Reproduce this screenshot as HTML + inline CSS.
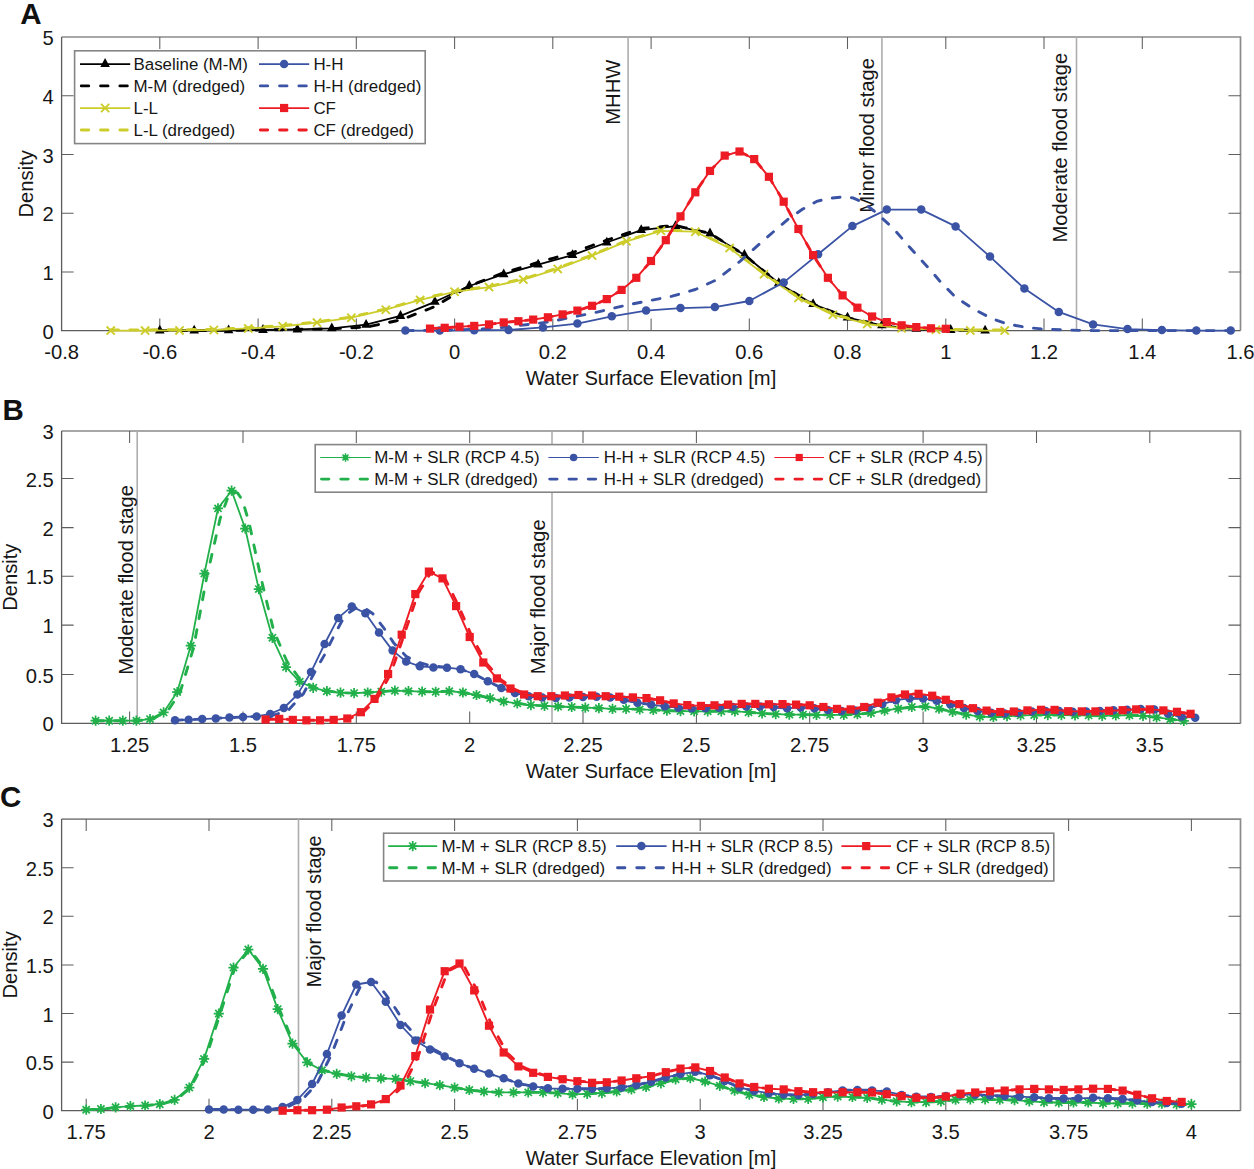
<!DOCTYPE html>
<html><head><meta charset="utf-8"><title>Figure</title>
<style>html,body{margin:0;padding:0;background:#fff}svg{display:block}</style>
</head><body>
<svg width="1254" height="1169" viewBox="0 0 1254 1169" font-family='"Liberation Sans", sans-serif' fill="#161616">
<rect width="1254" height="1169" fill="#fff"/>
<path d="M61.6 37.0H1240.5V330.6" fill="none" stroke="#8b8b8b" stroke-width="1.7"/>
<path d="M61.6 37.0V330.6H1240.5" fill="none" stroke="#5c5c5c" stroke-width="1.3"/>
<path d="M159.8 330.6v-12M159.8 37.0v12M258.1 330.6v-12M258.1 37.0v12M356.3 330.6v-12M356.3 37.0v12M454.6 330.6v-12M454.6 37.0v12M552.8 330.6v-12M552.8 37.0v12M651.1 330.6v-12M651.1 37.0v12M749.3 330.6v-12M749.3 37.0v12M847.5 330.6v-12M847.5 37.0v12M945.8 330.6v-12M945.8 37.0v12M1044.0 330.6v-12M1044.0 37.0v12M1142.3 330.6v-12M1142.3 37.0v12M61.6 271.9h12M1240.5 271.9h-12M61.6 213.2h12M1240.5 213.2h-12M61.6 154.4h12M1240.5 154.4h-12M61.6 95.7h12M1240.5 95.7h-12" stroke="#5e5e5e" stroke-width="1.05" fill="none"/>
<text x="61.6" y="359.0" text-anchor="middle" font-size="20.2">-0.8</text>
<text x="159.8" y="359.0" text-anchor="middle" font-size="20.2">-0.6</text>
<text x="258.1" y="359.0" text-anchor="middle" font-size="20.2">-0.4</text>
<text x="356.3" y="359.0" text-anchor="middle" font-size="20.2">-0.2</text>
<text x="454.6" y="359.0" text-anchor="middle" font-size="20.2">0</text>
<text x="552.8" y="359.0" text-anchor="middle" font-size="20.2">0.2</text>
<text x="651.1" y="359.0" text-anchor="middle" font-size="20.2">0.4</text>
<text x="749.3" y="359.0" text-anchor="middle" font-size="20.2">0.6</text>
<text x="847.5" y="359.0" text-anchor="middle" font-size="20.2">0.8</text>
<text x="945.8" y="359.0" text-anchor="middle" font-size="20.2">1</text>
<text x="1044.0" y="359.0" text-anchor="middle" font-size="20.2">1.2</text>
<text x="1142.3" y="359.0" text-anchor="middle" font-size="20.2">1.4</text>
<text x="1240.5" y="359.0" text-anchor="middle" font-size="20.2">1.6</text>
<text x="53.8" y="338.7" text-anchor="end" font-size="20.2">0</text>
<text x="53.8" y="280.0" text-anchor="end" font-size="20.2">1</text>
<text x="53.8" y="221.3" text-anchor="end" font-size="20.2">2</text>
<text x="53.8" y="162.5" text-anchor="end" font-size="20.2">3</text>
<text x="53.8" y="103.8" text-anchor="end" font-size="20.2">4</text>
<text x="53.8" y="45.1" text-anchor="end" font-size="20.2">5</text>
<text x="651.0" y="384.9" text-anchor="middle" font-size="20.2">Water Surface Elevation [m]</text>
<text transform="translate(33.2 183.8) rotate(-90)" text-anchor="middle" font-size="20.2">Density</text>
<path d="M628.1 37.0V330.6" stroke="#aeaeae" stroke-width="1.6" fill="none"/><text transform="translate(619.5 59.7) rotate(-90)" text-anchor="end" font-size="20.2">MHHW</text>
<path d="M881.9 37.0V330.6" stroke="#aeaeae" stroke-width="1.6" fill="none"/><text transform="translate(874.4 58.0) rotate(-90)" text-anchor="end" font-size="20.2">Minor flood stage</text>
<path d="M1076.5 37.0V330.6" stroke="#aeaeae" stroke-width="1.6" fill="none"/><text transform="translate(1066.5 52.8) rotate(-90)" text-anchor="end" font-size="20.2">Moderate flood stage</text>
<path d="M159.8 330.6L194.2 330.6L228.6 330.3L263.0 330.0L297.4 329.4L331.8 328.3L366.1 324.7L400.5 315.9L434.9 301.8L469.3 286.0L503.7 274.2L538.1 264.6L572.5 255.1L606.8 242.5L641.2 230.2L675.6 226.1L710.0 233.4L744.4 254.9L778.8 283.2L813.1 304.2L847.5 317.7L881.9 325.3L916.3 328.8L950.7 330.0L985.1 330.6" fill="none" stroke="#000000" stroke-width="1.8" stroke-linejoin="round"/>
<path d="M155.0 333.5L164.6 333.5L159.8 324.7Z" fill="#000000"/>
<path d="M189.4 333.5L199.0 333.5L194.2 324.7Z" fill="#000000"/>
<path d="M223.8 333.2L233.4 333.2L228.6 324.4Z" fill="#000000"/>
<path d="M258.2 332.9L267.8 332.9L263.0 324.1Z" fill="#000000"/>
<path d="M292.6 332.4L302.2 332.4L297.4 323.6Z" fill="#000000"/>
<path d="M327.0 331.2L336.6 331.2L331.8 322.4Z" fill="#000000"/>
<path d="M361.3 327.7L370.9 327.7L366.1 318.9Z" fill="#000000"/>
<path d="M395.7 318.9L405.3 318.9L400.5 310.1Z" fill="#000000"/>
<path d="M430.1 304.8L439.7 304.8L434.9 296.0Z" fill="#000000"/>
<path d="M464.5 288.9L474.1 288.9L469.3 280.1Z" fill="#000000"/>
<path d="M498.9 277.2L508.5 277.2L503.7 268.4Z" fill="#000000"/>
<path d="M533.3 267.5L542.9 267.5L538.1 258.7Z" fill="#000000"/>
<path d="M567.7 258.0L577.3 258.0L572.5 249.2Z" fill="#000000"/>
<path d="M602.0 245.5L611.6 245.5L606.8 236.7Z" fill="#000000"/>
<path d="M636.4 233.1L646.0 233.1L641.2 224.3Z" fill="#000000"/>
<path d="M670.8 229.0L680.4 229.0L675.6 220.2Z" fill="#000000"/>
<path d="M705.2 236.4L714.8 236.4L710.0 227.6Z" fill="#000000"/>
<path d="M739.6 257.8L749.2 257.8L744.4 249.0Z" fill="#000000"/>
<path d="M774.0 286.1L783.6 286.1L778.8 277.3Z" fill="#000000"/>
<path d="M808.3 307.1L817.9 307.1L813.1 298.3Z" fill="#000000"/>
<path d="M842.7 320.6L852.3 320.6L847.5 311.8Z" fill="#000000"/>
<path d="M877.1 328.2L886.7 328.2L881.9 319.4Z" fill="#000000"/>
<path d="M911.5 331.8L921.1 331.8L916.3 323.0Z" fill="#000000"/>
<path d="M945.9 332.9L955.5 332.9L950.7 324.1Z" fill="#000000"/>
<path d="M980.3 333.5L989.9 333.5L985.1 324.7Z" fill="#000000"/>
<path d="M159.8 330.6L164.8 330.6L169.7 330.6L174.6 330.6L179.5 330.6L184.4 330.6L189.3 330.6L194.2 330.6L199.1 330.6L204.1 330.5L209.0 330.5L213.9 330.4L218.8 330.4L223.7 330.3L228.6 330.3L233.5 330.3L238.4 330.2L243.3 330.2L248.3 330.1L253.2 330.1L258.1 330.1L263.0 330.0L267.9 329.9L272.8 329.8L277.7 329.8L282.6 329.7L287.6 329.6L292.5 329.5L297.4 329.4L302.3 329.3L307.2 329.3L312.1 329.2L317.0 329.1L321.9 329.0L326.9 328.9L331.8 328.8L336.7 328.6L341.6 328.3L346.5 328.1L351.4 327.8L356.3 327.6L361.2 327.3L366.1 327.1L371.1 326.1L376.0 325.1L380.9 324.1L385.8 323.1L390.7 322.0L395.6 321.0L400.5 320.0L405.4 318.1L410.4 316.2L415.3 314.2L420.2 312.3L425.1 310.4L430.0 308.5L434.9 306.5L439.8 303.5L444.7 300.5L449.7 297.5L454.6 294.5L459.5 291.7L464.4 288.8L469.3 286.0L474.2 284.1L479.1 282.2L484.0 280.3L489.0 278.4L493.9 276.5L498.8 274.6L503.7 272.8L508.6 271.3L513.5 269.8L518.4 268.4L523.3 266.9L528.2 265.5L533.2 264.0L538.1 262.5L543.0 261.1L547.9 259.7L552.8 258.3L557.7 256.9L562.6 255.5L567.5 254.0L572.5 252.6L577.4 250.8L582.3 249.1L587.2 247.3L592.1 245.5L597.0 243.7L601.9 241.9L606.8 240.2L611.8 238.5L616.7 236.8L621.6 235.1L626.5 233.5L631.4 231.8L636.3 230.1L641.2 228.4L646.1 228.0L651.1 227.6L656.0 227.2L660.9 226.7L665.8 226.3L670.7 225.9L675.6 225.5L680.5 226.6L685.4 227.8L690.3 228.9L695.3 230.0L700.2 231.2L705.1 232.3L710.0 233.4L714.9 236.5L719.8 239.5L724.7 242.6L729.6 245.7L734.6 248.7L739.5 251.8L744.4 254.9L749.3 258.9L754.2 263.0L759.1 267.0L764.0 271.1L768.9 275.1L773.9 279.2L778.8 283.2L783.7 286.2L788.6 289.2L793.5 292.2L798.4 295.2L803.3 298.2L808.2 301.2L813.1 304.2L818.1 306.1L823.0 308.0L827.9 310.0L832.8 311.9L837.7 313.8L842.6 315.8L847.5 317.7L852.4 318.8L857.4 319.9L862.3 321.0L867.2 322.0L872.1 323.1L877.0 324.2L881.9 325.3L886.8 325.8L891.7 326.3L896.7 326.8L901.6 327.3L906.5 327.8L911.4 328.3L916.3 328.8L921.2 329.0L926.1 329.2L931.0 329.3L936.0 329.5L940.9 329.7L945.8 329.8L950.7 330.0L955.6 330.1L960.5 330.2L965.4 330.3L970.3 330.3L975.2 330.4L980.2 330.5L985.1 330.6" fill="none" stroke="#000000" stroke-width="2.9" stroke-linejoin="round" stroke-dasharray="7.8 11.4" stroke-linecap="round"/>
<path d="M110.7 330.6L145.1 330.6L179.5 330.4L213.9 330.0L248.3 328.4L282.6 326.3L317.0 322.6L351.4 317.7L385.8 309.7L420.2 299.9L454.6 291.8L489.0 287.1L523.3 279.6L557.7 268.9L592.1 255.6L626.5 241.3L660.9 230.8L695.3 231.7L729.6 248.1L764.0 274.3L798.4 298.1L832.8 314.8L867.2 324.0L901.6 328.3L936.0 329.7L970.3 330.6L1004.7 330.6" fill="none" stroke="#cccc2a" stroke-width="1.8" stroke-linejoin="round"/>
<path d="M106.6 326.5L114.8 334.7M106.6 334.7L114.8 326.5" stroke="#cccc2a" stroke-width="1.9" fill="none"/>
<path d="M141.0 326.5L149.2 334.7M141.0 334.7L149.2 326.5" stroke="#cccc2a" stroke-width="1.9" fill="none"/>
<path d="M175.4 326.3L183.6 334.5M175.4 334.5L183.6 326.3" stroke="#cccc2a" stroke-width="1.9" fill="none"/>
<path d="M209.8 325.9L218.0 334.1M209.8 334.1L218.0 325.9" stroke="#cccc2a" stroke-width="1.9" fill="none"/>
<path d="M244.2 324.3L252.4 332.5M244.2 332.5L252.4 324.3" stroke="#cccc2a" stroke-width="1.9" fill="none"/>
<path d="M278.5 322.2L286.7 330.4M278.5 330.4L286.7 322.2" stroke="#cccc2a" stroke-width="1.9" fill="none"/>
<path d="M312.9 318.5L321.1 326.7M312.9 326.7L321.1 318.5" stroke="#cccc2a" stroke-width="1.9" fill="none"/>
<path d="M347.3 313.6L355.5 321.8M347.3 321.8L355.5 313.6" stroke="#cccc2a" stroke-width="1.9" fill="none"/>
<path d="M381.7 305.6L389.9 313.8M381.7 313.8L389.9 305.6" stroke="#cccc2a" stroke-width="1.9" fill="none"/>
<path d="M416.1 295.8L424.3 304.0M416.1 304.0L424.3 295.8" stroke="#cccc2a" stroke-width="1.9" fill="none"/>
<path d="M450.5 287.7L458.7 295.9M450.5 295.9L458.7 287.7" stroke="#cccc2a" stroke-width="1.9" fill="none"/>
<path d="M484.9 283.0L493.1 291.2M484.9 291.2L493.1 283.0" stroke="#cccc2a" stroke-width="1.9" fill="none"/>
<path d="M519.2 275.5L527.4 283.7M519.2 283.7L527.4 275.5" stroke="#cccc2a" stroke-width="1.9" fill="none"/>
<path d="M553.6 264.8L561.8 273.0M553.6 273.0L561.8 264.8" stroke="#cccc2a" stroke-width="1.9" fill="none"/>
<path d="M588.0 251.5L596.2 259.7M588.0 259.7L596.2 251.5" stroke="#cccc2a" stroke-width="1.9" fill="none"/>
<path d="M622.4 237.2L630.6 245.4M622.4 245.4L630.6 237.2" stroke="#cccc2a" stroke-width="1.9" fill="none"/>
<path d="M656.8 226.7L665.0 234.9M656.8 234.9L665.0 226.7" stroke="#cccc2a" stroke-width="1.9" fill="none"/>
<path d="M691.2 227.6L699.4 235.8M691.2 235.8L699.4 227.6" stroke="#cccc2a" stroke-width="1.9" fill="none"/>
<path d="M725.5 244.0L733.7 252.2M725.5 252.2L733.7 244.0" stroke="#cccc2a" stroke-width="1.9" fill="none"/>
<path d="M759.9 270.2L768.1 278.4M759.9 278.4L768.1 270.2" stroke="#cccc2a" stroke-width="1.9" fill="none"/>
<path d="M794.3 294.0L802.5 302.2M794.3 302.2L802.5 294.0" stroke="#cccc2a" stroke-width="1.9" fill="none"/>
<path d="M828.7 310.7L836.9 318.9M828.7 318.9L836.9 310.7" stroke="#cccc2a" stroke-width="1.9" fill="none"/>
<path d="M863.1 319.9L871.3 328.1M863.1 328.1L871.3 319.9" stroke="#cccc2a" stroke-width="1.9" fill="none"/>
<path d="M897.5 324.2L905.7 332.4M897.5 332.4L905.7 324.2" stroke="#cccc2a" stroke-width="1.9" fill="none"/>
<path d="M931.9 325.6L940.1 333.8M931.9 333.8L940.1 325.6" stroke="#cccc2a" stroke-width="1.9" fill="none"/>
<path d="M966.2 326.5L974.4 334.7M966.2 334.7L974.4 326.5" stroke="#cccc2a" stroke-width="1.9" fill="none"/>
<path d="M1000.6 326.5L1008.8 334.7M1000.6 334.7L1008.8 326.5" stroke="#cccc2a" stroke-width="1.9" fill="none"/>
<path d="M110.7 329.9L115.6 329.9L120.5 329.9L125.5 329.9L130.4 329.9L135.3 329.9L140.2 329.9L145.1 329.9L150.0 329.9L154.9 329.8L159.8 329.8L164.8 329.8L169.7 329.8L174.6 329.7L179.5 329.7L184.4 329.7L189.3 329.6L194.2 329.5L199.1 329.5L204.1 329.4L209.0 329.4L213.9 329.3L218.8 329.1L223.7 328.8L228.6 328.6L233.5 328.4L238.4 328.1L243.3 327.9L248.3 327.7L253.2 327.4L258.1 327.1L263.0 326.8L267.9 326.5L272.8 326.2L277.7 325.9L282.6 325.6L287.6 325.0L292.5 324.5L297.4 324.0L302.3 323.4L307.2 322.9L312.1 322.4L317.0 321.9L321.9 321.2L326.9 320.5L331.8 319.8L336.7 319.1L341.6 318.4L346.5 317.7L351.4 317.0L356.3 315.8L361.2 314.7L366.1 313.6L371.1 312.4L376.0 311.3L380.9 310.1L385.8 309.0L390.7 307.6L395.6 306.2L400.5 304.8L405.4 303.4L410.4 302.0L415.3 300.6L420.2 299.2L425.1 298.0L430.0 296.9L434.9 295.7L439.8 294.6L444.7 293.4L449.7 292.3L454.6 291.1L459.5 290.5L464.4 289.8L469.3 289.1L474.2 288.5L479.1 287.8L484.0 287.1L489.0 286.4L493.9 285.4L498.8 284.3L503.7 283.2L508.6 282.1L513.5 281.0L518.4 279.9L523.3 278.9L528.2 277.3L533.2 275.8L538.1 274.3L543.0 272.8L547.9 271.2L552.8 269.7L557.7 268.2L562.6 266.3L567.5 264.4L572.5 262.5L577.4 260.6L582.3 258.7L587.2 256.8L592.1 254.9L597.0 252.8L601.9 250.8L606.8 248.8L611.8 246.7L616.7 244.7L621.6 242.7L626.5 240.6L631.4 239.1L636.3 237.6L641.2 236.1L646.1 234.6L651.1 233.1L656.0 231.6L660.9 230.1L665.8 230.2L670.7 230.3L675.6 230.4L680.5 230.6L685.4 230.7L690.3 230.8L695.3 231.0L700.2 233.3L705.1 235.6L710.0 238.0L714.9 240.3L719.8 242.7L724.7 245.0L729.6 247.4L734.6 251.1L739.5 254.9L744.4 258.6L749.3 262.4L754.2 266.1L759.1 269.9L764.0 273.6L768.9 277.0L773.9 280.4L778.8 283.8L783.7 287.2L788.6 290.6L793.5 294.0L798.4 297.4L803.3 299.8L808.2 302.2L813.1 304.6L818.1 307.0L823.0 309.3L827.9 311.7L832.8 314.1L837.7 315.4L842.6 316.7L847.5 318.0L852.4 319.3L857.4 320.6L862.3 322.0L867.2 323.3L872.1 323.9L877.0 324.5L881.9 325.1L886.8 325.7L891.7 326.3L896.7 326.9L901.6 327.5L906.5 327.8L911.4 328.0L916.3 328.2L921.2 328.4L926.1 328.6L931.0 328.8L936.0 329.0L940.9 329.1L945.8 329.3L950.7 329.4L955.6 329.5L960.5 329.6L965.4 329.8L970.3 329.9L975.2 329.9L980.2 329.9L985.1 329.9L990.0 329.9L994.9 329.9L999.8 329.9L1004.7 329.9" fill="none" stroke="#cccc2a" stroke-width="2.9" stroke-linejoin="round" stroke-dasharray="7.8 11.4" stroke-linecap="round"/>
<path d="M405.4 330.6L439.8 330.6L474.2 330.3L508.6 330.0L543.0 327.4L577.4 323.6L611.8 316.3L646.1 310.6L680.5 308.1L714.9 307.1L749.3 301.0L783.7 282.4L818.1 254.3L852.4 226.1L886.8 209.6L921.2 209.6L955.6 226.4L990.0 256.6L1024.4 288.6L1058.8 311.9L1093.1 324.4L1127.5 329.1L1161.9 330.1L1196.3 330.6L1230.7 330.6" fill="none" stroke="#3a53a4" stroke-width="1.8" stroke-linejoin="round"/>
<circle cx="405.4" cy="330.6" r="4.25" fill="#3a53a4"/>
<circle cx="439.8" cy="330.6" r="4.25" fill="#3a53a4"/>
<circle cx="474.2" cy="330.3" r="4.25" fill="#3a53a4"/>
<circle cx="508.6" cy="330.0" r="4.25" fill="#3a53a4"/>
<circle cx="543.0" cy="327.4" r="4.25" fill="#3a53a4"/>
<circle cx="577.4" cy="323.6" r="4.25" fill="#3a53a4"/>
<circle cx="611.8" cy="316.3" r="4.25" fill="#3a53a4"/>
<circle cx="646.1" cy="310.6" r="4.25" fill="#3a53a4"/>
<circle cx="680.5" cy="308.1" r="4.25" fill="#3a53a4"/>
<circle cx="714.9" cy="307.1" r="4.25" fill="#3a53a4"/>
<circle cx="749.3" cy="301.0" r="4.25" fill="#3a53a4"/>
<circle cx="783.7" cy="282.4" r="4.25" fill="#3a53a4"/>
<circle cx="818.1" cy="254.3" r="4.25" fill="#3a53a4"/>
<circle cx="852.4" cy="226.1" r="4.25" fill="#3a53a4"/>
<circle cx="886.8" cy="209.6" r="4.25" fill="#3a53a4"/>
<circle cx="921.2" cy="209.6" r="4.25" fill="#3a53a4"/>
<circle cx="955.6" cy="226.4" r="4.25" fill="#3a53a4"/>
<circle cx="990.0" cy="256.6" r="4.25" fill="#3a53a4"/>
<circle cx="1024.4" cy="288.6" r="4.25" fill="#3a53a4"/>
<circle cx="1058.8" cy="311.9" r="4.25" fill="#3a53a4"/>
<circle cx="1093.1" cy="324.4" r="4.25" fill="#3a53a4"/>
<circle cx="1127.5" cy="329.1" r="4.25" fill="#3a53a4"/>
<circle cx="1161.9" cy="330.1" r="4.25" fill="#3a53a4"/>
<circle cx="1196.3" cy="330.6" r="4.25" fill="#3a53a4"/>
<circle cx="1230.7" cy="330.6" r="4.25" fill="#3a53a4"/>
<path d="M405.4 330.6L454.6 330.0L479.1 329.1L500.2 327.8L547.9 322.1L595.5 312.5L628.0 304.8L672.2 296.2L695.3 289.5L716.4 279.9L740.0 261.3L759.1 244.3L773.9 231.4L787.6 219.6L802.8 209.0L816.6 201.4L827.9 198.5L842.6 197.0L852.9 197.9L862.3 202.0L874.1 211.0L893.2 228.3L912.4 250.3L931.5 271.3L940.9 282.4L955.6 297.1L972.8 308.6L991.9 318.6L1007.2 324.0L1026.3 327.4L1043.5 329.1L1068.6 330.1L1093.1 330.6L1230.7 330.6" fill="none" stroke="#3a53a4" stroke-width="2.9" stroke-linejoin="round" stroke-dasharray="7.8 11.4" stroke-linecap="round"/>
<path d="M430.0 328.6L444.7 327.8L459.5 326.7L474.2 325.9L489.0 324.4L503.7 322.4L518.4 321.2L533.2 319.6L547.9 317.3L562.6 314.4L577.4 310.6L592.1 305.8L606.8 299.1L621.6 289.9L636.3 277.8L651.0 261.0L665.8 240.2L680.5 216.4L695.3 192.3L710.0 170.9L724.7 155.6L739.5 151.5L754.2 159.1L768.9 176.8L783.7 201.7L798.4 229.0L813.1 255.1L827.9 277.8L842.6 295.4L857.4 307.7L872.1 316.5L886.8 322.1L901.6 325.3L916.3 327.1L931.0 328.3L945.8 328.8" fill="none" stroke="#ed1c24" stroke-width="1.9" stroke-linejoin="round"/>
<path d="M430.0 328.6L444.7 327.8L459.5 326.7L474.2 325.9L489.0 324.4L503.7 322.4L518.4 321.2L533.2 319.6L547.9 317.3L562.6 314.4L577.4 310.6L592.1 305.8L606.8 299.1L621.6 289.9L636.3 277.8L651.0 261.0L665.8 240.2L680.5 216.4L695.3 192.3L710.0 170.9L724.7 155.6L739.5 151.5L754.2 159.1L768.9 176.8L783.7 201.7L798.4 229.0L813.1 255.1L827.9 277.8L842.6 295.4L857.4 307.7L872.1 316.5L886.8 322.1L901.6 325.3L916.3 327.1L931.0 328.3L945.8 328.8" fill="none" stroke="#ed1c24" stroke-width="2.9" stroke-linejoin="round" stroke-dasharray="7.8 11.4" stroke-linecap="round"/>
<rect x="425.9" y="324.5" width="8.2" height="8.2" fill="#ed1c24"/>
<rect x="440.6" y="323.7" width="8.2" height="8.2" fill="#ed1c24"/>
<rect x="455.4" y="322.6" width="8.2" height="8.2" fill="#ed1c24"/>
<rect x="470.1" y="321.8" width="8.2" height="8.2" fill="#ed1c24"/>
<rect x="484.9" y="320.3" width="8.2" height="8.2" fill="#ed1c24"/>
<rect x="499.6" y="318.3" width="8.2" height="8.2" fill="#ed1c24"/>
<rect x="514.3" y="317.1" width="8.2" height="8.2" fill="#ed1c24"/>
<rect x="529.1" y="315.5" width="8.2" height="8.2" fill="#ed1c24"/>
<rect x="543.8" y="313.2" width="8.2" height="8.2" fill="#ed1c24"/>
<rect x="558.5" y="310.3" width="8.2" height="8.2" fill="#ed1c24"/>
<rect x="573.3" y="306.5" width="8.2" height="8.2" fill="#ed1c24"/>
<rect x="588.0" y="301.7" width="8.2" height="8.2" fill="#ed1c24"/>
<rect x="602.7" y="295.0" width="8.2" height="8.2" fill="#ed1c24"/>
<rect x="617.5" y="285.8" width="8.2" height="8.2" fill="#ed1c24"/>
<rect x="632.2" y="273.7" width="8.2" height="8.2" fill="#ed1c24"/>
<rect x="646.9" y="256.9" width="8.2" height="8.2" fill="#ed1c24"/>
<rect x="661.7" y="236.1" width="8.2" height="8.2" fill="#ed1c24"/>
<rect x="676.4" y="212.3" width="8.2" height="8.2" fill="#ed1c24"/>
<rect x="691.2" y="188.2" width="8.2" height="8.2" fill="#ed1c24"/>
<rect x="705.9" y="166.8" width="8.2" height="8.2" fill="#ed1c24"/>
<rect x="720.6" y="151.5" width="8.2" height="8.2" fill="#ed1c24"/>
<rect x="735.4" y="147.4" width="8.2" height="8.2" fill="#ed1c24"/>
<rect x="750.1" y="155.0" width="8.2" height="8.2" fill="#ed1c24"/>
<rect x="764.8" y="172.7" width="8.2" height="8.2" fill="#ed1c24"/>
<rect x="779.6" y="197.6" width="8.2" height="8.2" fill="#ed1c24"/>
<rect x="794.3" y="224.9" width="8.2" height="8.2" fill="#ed1c24"/>
<rect x="809.0" y="251.0" width="8.2" height="8.2" fill="#ed1c24"/>
<rect x="823.8" y="273.7" width="8.2" height="8.2" fill="#ed1c24"/>
<rect x="838.5" y="291.3" width="8.2" height="8.2" fill="#ed1c24"/>
<rect x="853.3" y="303.6" width="8.2" height="8.2" fill="#ed1c24"/>
<rect x="868.0" y="312.4" width="8.2" height="8.2" fill="#ed1c24"/>
<rect x="882.7" y="318.0" width="8.2" height="8.2" fill="#ed1c24"/>
<rect x="897.5" y="321.2" width="8.2" height="8.2" fill="#ed1c24"/>
<rect x="912.2" y="323.0" width="8.2" height="8.2" fill="#ed1c24"/>
<rect x="926.9" y="324.2" width="8.2" height="8.2" fill="#ed1c24"/>
<rect x="941.7" y="324.7" width="8.2" height="8.2" fill="#ed1c24"/>
<rect x="74.6" y="50.8" width="350.6" height="92.8" fill="#fff" stroke="#858585" stroke-width="1.6"/>
<path d="M80.0 64.0H130.2" stroke="#000000" stroke-width="1.75" fill="none"/><path d="M100.3 66.9L109.9 66.9L105.1 58.1Z" fill="#000000"/>
<text x="133.5" y="69.9" font-size="16.9">Baseline (M-M)</text>
<path d="M81.3 85.9H130.2" stroke="#000000" stroke-width="2.9" stroke-dasharray="7.4 11.9" stroke-linecap="round" fill="none"/>
<text x="133.5" y="91.8" font-size="16.9">M-M (dredged)</text>
<path d="M80.0 108.0H130.2" stroke="#cccc2a" stroke-width="1.75" fill="none"/><path d="M101.0 103.9L109.2 112.1M101.0 112.1L109.2 103.9" stroke="#cccc2a" stroke-width="1.9" fill="none"/>
<text x="133.5" y="113.9" font-size="16.9">L-L</text>
<path d="M81.3 130.0H130.2" stroke="#cccc2a" stroke-width="2.9" stroke-dasharray="7.4 11.9" stroke-linecap="round" fill="none"/>
<text x="133.5" y="135.9" font-size="16.9">L-L (dredged)</text>
<path d="M259.0 64.0H309.2" stroke="#3a53a4" stroke-width="1.75" fill="none"/><circle cx="284.1" cy="64.0" r="4.25" fill="#3a53a4"/>
<text x="313.4" y="69.9" font-size="16.9">H-H</text>
<path d="M260.3 85.9H309.2" stroke="#3a53a4" stroke-width="2.9" stroke-dasharray="7.4 11.9" stroke-linecap="round" fill="none"/>
<text x="313.4" y="91.8" font-size="16.9">H-H (dredged)</text>
<path d="M259.0 108.0H309.2" stroke="#ed1c24" stroke-width="1.75" fill="none"/><rect x="280.0" y="103.9" width="8.2" height="8.2" fill="#ed1c24"/>
<text x="313.4" y="113.9" font-size="16.9">CF</text>
<path d="M260.3 130.0H309.2" stroke="#ed1c24" stroke-width="2.9" stroke-dasharray="7.4 11.9" stroke-linecap="round" fill="none"/>
<text x="313.4" y="135.9" font-size="16.9">CF (dredged)</text>
<text x="20.3" y="24.2" font-size="29.5" font-weight="bold" fill="#111">A</text>
<path d="M61.6 431.0H1240.5V723.4" fill="none" stroke="#8b8b8b" stroke-width="1.7"/>
<path d="M61.6 431.0V723.4H1240.5" fill="none" stroke="#5c5c5c" stroke-width="1.3"/>
<path d="M129.6 723.4v-12M129.6 431.0v12M243.0 723.4v-12M243.0 431.0v12M356.3 723.4v-12M356.3 431.0v12M469.7 723.4v-12M469.7 431.0v12M583.0 723.4v-12M583.0 431.0v12M696.4 723.4v-12M696.4 431.0v12M809.7 723.4v-12M809.7 431.0v12M923.1 723.4v-12M923.1 431.0v12M1036.5 723.4v-12M1036.5 431.0v12M1149.8 723.4v-12M1149.8 431.0v12M61.6 674.4h12M1240.5 674.4h-12M61.6 625.1h12M1240.5 625.1h-12M61.6 576.3h12M1240.5 576.3h-12M61.6 527.6h12M1240.5 527.6h-12M61.6 478.5h12M1240.5 478.5h-12" stroke="#5e5e5e" stroke-width="1.05" fill="none"/>
<text x="129.6" y="751.8" text-anchor="middle" font-size="20.2">1.25</text>
<text x="243.0" y="751.8" text-anchor="middle" font-size="20.2">1.5</text>
<text x="356.3" y="751.8" text-anchor="middle" font-size="20.2">1.75</text>
<text x="469.7" y="751.8" text-anchor="middle" font-size="20.2">2</text>
<text x="583.0" y="751.8" text-anchor="middle" font-size="20.2">2.25</text>
<text x="696.4" y="751.8" text-anchor="middle" font-size="20.2">2.5</text>
<text x="809.7" y="751.8" text-anchor="middle" font-size="20.2">2.75</text>
<text x="923.1" y="751.8" text-anchor="middle" font-size="20.2">3</text>
<text x="1036.5" y="751.8" text-anchor="middle" font-size="20.2">3.25</text>
<text x="1149.8" y="751.8" text-anchor="middle" font-size="20.2">3.5</text>
<text x="53.8" y="731.3" text-anchor="end" font-size="20.2">0</text>
<text x="53.8" y="682.5" text-anchor="end" font-size="20.2">0.5</text>
<text x="53.8" y="633.2" text-anchor="end" font-size="20.2">1</text>
<text x="53.8" y="584.4" text-anchor="end" font-size="20.2">1.5</text>
<text x="53.8" y="535.7" text-anchor="end" font-size="20.2">2</text>
<text x="53.8" y="486.6" text-anchor="end" font-size="20.2">2.5</text>
<text x="53.8" y="439.1" text-anchor="end" font-size="20.2">3</text>
<text x="651.0" y="777.7" text-anchor="middle" font-size="20.2">Water Surface Elevation [m]</text>
<text transform="translate(16.9 577.2) rotate(-90)" text-anchor="middle" font-size="20.2">Density</text>
<path d="M137.2 431.0V723.4" stroke="#aeaeae" stroke-width="1.6" fill="none"/><text transform="translate(132.8 485.0) rotate(-90)" text-anchor="end" font-size="20.2">Moderate flood stage</text>
<path d="M552.0 431.0V723.4" stroke="#aeaeae" stroke-width="1.6" fill="none"/><text transform="translate(545.0 519.3) rotate(-90)" text-anchor="end" font-size="20.2">Major flood stage</text>
<path d="M95.6 720.7L109.2 720.7L122.8 720.7L136.4 720.7L150.0 719.1L163.6 712.4L177.2 692.0L190.8 645.7L204.4 573.5L218.0 508.4L231.6 490.7L245.2 528.5L258.8 589.1L272.4 637.8L286.0 667.1L299.6 681.7L313.2 687.8L326.9 691.2L340.5 692.7L354.1 693.1L367.7 692.5L381.3 691.6L394.9 690.7L408.5 691.2L422.1 691.6L435.7 691.8L449.3 691.2L462.9 692.5L476.5 695.0L490.1 698.1L503.7 701.5L517.3 703.4L530.9 705.1L544.5 705.9L558.1 706.5L571.7 707.0L585.3 707.7L598.9 708.2L612.5 708.9L626.1 708.9L639.7 709.4L653.3 709.9L666.9 710.6L680.5 711.1L694.1 711.3L707.7 711.3L721.3 711.3L734.9 711.3L748.5 712.2L762.1 713.4L775.7 714.1L789.3 714.6L802.9 714.6L816.5 714.9L830.2 714.9L843.8 714.9L857.4 714.2L871.0 713.0L884.6 710.6L898.2 708.7L911.8 707.0L925.4 706.5L939.0 708.7L952.6 711.8L966.2 714.6L979.8 716.6L993.4 717.0L1007.0 716.1L1020.6 715.4L1034.2 715.1L1047.8 715.1L1061.4 715.1L1075.0 715.3L1088.6 715.4L1102.2 715.8L1115.8 715.4L1129.4 715.2L1143.0 715.8L1156.6 717.4L1170.2 719.2L1183.8 720.8" fill="none" stroke="#22b04b" stroke-width="1.8" stroke-linejoin="round"/>
<path d="M90.5 720.7L100.7 720.7M95.6 715.6L95.6 725.8M92.0 717.1L99.2 724.3M92.0 724.3L99.2 717.1" stroke="#22b04b" stroke-width="1.75" fill="none"/><circle cx="95.6" cy="720.7" r="2.6" fill="#22b04b"/>
<path d="M104.1 720.7L114.3 720.7M109.2 715.6L109.2 725.8M105.6 717.1L112.8 724.3M105.6 724.3L112.8 717.1" stroke="#22b04b" stroke-width="1.75" fill="none"/><circle cx="109.2" cy="720.7" r="2.6" fill="#22b04b"/>
<path d="M117.7 720.7L127.9 720.7M122.8 715.6L122.8 725.8M119.2 717.1L126.4 724.3M119.2 724.3L126.4 717.1" stroke="#22b04b" stroke-width="1.75" fill="none"/><circle cx="122.8" cy="720.7" r="2.6" fill="#22b04b"/>
<path d="M131.3 720.7L141.5 720.7M136.4 715.6L136.4 725.8M132.8 717.1L140.0 724.3M132.8 724.3L140.0 717.1" stroke="#22b04b" stroke-width="1.75" fill="none"/><circle cx="136.4" cy="720.7" r="2.6" fill="#22b04b"/>
<path d="M144.9 719.1L155.1 719.1M150.0 714.0L150.0 724.2M146.4 715.5L153.6 722.7M146.4 722.7L153.6 715.5" stroke="#22b04b" stroke-width="1.75" fill="none"/><circle cx="150.0" cy="719.1" r="2.6" fill="#22b04b"/>
<path d="M158.5 712.4L168.7 712.4M163.6 707.3L163.6 717.5M160.0 708.8L167.2 716.0M160.0 716.0L167.2 708.8" stroke="#22b04b" stroke-width="1.75" fill="none"/><circle cx="163.6" cy="712.4" r="2.6" fill="#22b04b"/>
<path d="M172.1 692.0L182.3 692.0M177.2 686.9L177.2 697.1M173.6 688.4L180.8 695.6M173.6 695.6L180.8 688.4" stroke="#22b04b" stroke-width="1.75" fill="none"/><circle cx="177.2" cy="692.0" r="2.6" fill="#22b04b"/>
<path d="M185.7 645.7L195.9 645.7M190.8 640.6L190.8 650.8M187.2 642.1L194.4 649.3M187.2 649.3L194.4 642.1" stroke="#22b04b" stroke-width="1.75" fill="none"/><circle cx="190.8" cy="645.7" r="2.6" fill="#22b04b"/>
<path d="M199.3 573.5L209.5 573.5M204.4 568.4L204.4 578.6M200.8 569.9L208.0 577.1M200.8 577.1L208.0 569.9" stroke="#22b04b" stroke-width="1.75" fill="none"/><circle cx="204.4" cy="573.5" r="2.6" fill="#22b04b"/>
<path d="M212.9 508.4L223.1 508.4M218.0 503.3L218.0 513.5M214.4 504.8L221.6 512.0M214.4 512.0L221.6 504.8" stroke="#22b04b" stroke-width="1.75" fill="none"/><circle cx="218.0" cy="508.4" r="2.6" fill="#22b04b"/>
<path d="M226.5 490.7L236.7 490.7M231.6 485.6L231.6 495.8M228.0 487.1L235.2 494.4M228.0 494.4L235.2 487.1" stroke="#22b04b" stroke-width="1.75" fill="none"/><circle cx="231.6" cy="490.7" r="2.6" fill="#22b04b"/>
<path d="M240.1 528.5L250.3 528.5M245.2 523.4L245.2 533.6M241.6 524.9L248.8 532.1M241.6 532.1L248.8 524.9" stroke="#22b04b" stroke-width="1.75" fill="none"/><circle cx="245.2" cy="528.5" r="2.6" fill="#22b04b"/>
<path d="M253.7 589.1L263.9 589.1M258.8 584.0L258.8 594.2M255.2 585.5L262.4 592.7M255.2 592.7L262.4 585.5" stroke="#22b04b" stroke-width="1.75" fill="none"/><circle cx="258.8" cy="589.1" r="2.6" fill="#22b04b"/>
<path d="M267.3 637.8L277.5 637.8M272.4 632.7L272.4 642.9M268.8 634.2L276.0 641.4M268.8 641.4L276.0 634.2" stroke="#22b04b" stroke-width="1.75" fill="none"/><circle cx="272.4" cy="637.8" r="2.6" fill="#22b04b"/>
<path d="M280.9 667.1L291.1 667.1M286.0 662.0L286.0 672.2M282.4 663.5L289.7 670.7M282.4 670.7L289.7 663.5" stroke="#22b04b" stroke-width="1.75" fill="none"/><circle cx="286.0" cy="667.1" r="2.6" fill="#22b04b"/>
<path d="M294.5 681.7L304.7 681.7M299.6 676.6L299.6 686.8M296.0 678.1L303.3 685.3M296.0 685.3L303.3 678.1" stroke="#22b04b" stroke-width="1.75" fill="none"/><circle cx="299.6" cy="681.7" r="2.6" fill="#22b04b"/>
<path d="M308.1 687.8L318.3 687.8M313.2 682.7L313.2 692.9M309.6 684.2L316.9 691.4M309.6 691.4L316.9 684.2" stroke="#22b04b" stroke-width="1.75" fill="none"/><circle cx="313.2" cy="687.8" r="2.6" fill="#22b04b"/>
<path d="M321.8 691.2L332.0 691.2M326.9 686.1L326.9 696.3M323.2 687.6L330.5 694.8M323.2 694.8L330.5 687.6" stroke="#22b04b" stroke-width="1.75" fill="none"/><circle cx="326.9" cy="691.2" r="2.6" fill="#22b04b"/>
<path d="M335.4 692.7L345.6 692.7M340.5 687.6L340.5 697.8M336.8 689.1L344.1 696.3M336.8 696.3L344.1 689.1" stroke="#22b04b" stroke-width="1.75" fill="none"/><circle cx="340.5" cy="692.7" r="2.6" fill="#22b04b"/>
<path d="M349.0 693.1L359.2 693.1M354.1 688.0L354.1 698.2M350.5 689.5L357.7 696.7M350.5 696.7L357.7 689.5" stroke="#22b04b" stroke-width="1.75" fill="none"/><circle cx="354.1" cy="693.1" r="2.6" fill="#22b04b"/>
<path d="M362.6 692.5L372.8 692.5M367.7 687.4L367.7 697.6M364.1 688.9L371.3 696.1M364.1 696.1L371.3 688.9" stroke="#22b04b" stroke-width="1.75" fill="none"/><circle cx="367.7" cy="692.5" r="2.6" fill="#22b04b"/>
<path d="M376.2 691.6L386.4 691.6M381.3 686.5L381.3 696.7M377.7 688.0L384.9 695.2M377.7 695.2L384.9 688.0" stroke="#22b04b" stroke-width="1.75" fill="none"/><circle cx="381.3" cy="691.6" r="2.6" fill="#22b04b"/>
<path d="M389.8 690.7L400.0 690.7M394.9 685.6L394.9 695.8M391.3 687.0L398.5 694.3M391.3 694.3L398.5 687.0" stroke="#22b04b" stroke-width="1.75" fill="none"/><circle cx="394.9" cy="690.7" r="2.6" fill="#22b04b"/>
<path d="M403.4 691.2L413.6 691.2M408.5 686.1L408.5 696.3M404.9 687.6L412.1 694.8M404.9 694.8L412.1 687.6" stroke="#22b04b" stroke-width="1.75" fill="none"/><circle cx="408.5" cy="691.2" r="2.6" fill="#22b04b"/>
<path d="M417.0 691.6L427.2 691.6M422.1 686.5L422.1 696.7M418.5 688.0L425.7 695.2M418.5 695.2L425.7 688.0" stroke="#22b04b" stroke-width="1.75" fill="none"/><circle cx="422.1" cy="691.6" r="2.6" fill="#22b04b"/>
<path d="M430.6 691.8L440.8 691.8M435.7 686.7L435.7 696.9M432.1 688.2L439.3 695.4M432.1 695.4L439.3 688.2" stroke="#22b04b" stroke-width="1.75" fill="none"/><circle cx="435.7" cy="691.8" r="2.6" fill="#22b04b"/>
<path d="M444.2 691.2L454.4 691.2M449.3 686.1L449.3 696.3M445.7 687.6L452.9 694.8M445.7 694.8L452.9 687.6" stroke="#22b04b" stroke-width="1.75" fill="none"/><circle cx="449.3" cy="691.2" r="2.6" fill="#22b04b"/>
<path d="M457.8 692.5L468.0 692.5M462.9 687.4L462.9 697.6M459.3 688.9L466.5 696.1M459.3 696.1L466.5 688.9" stroke="#22b04b" stroke-width="1.75" fill="none"/><circle cx="462.9" cy="692.5" r="2.6" fill="#22b04b"/>
<path d="M471.4 695.0L481.6 695.0M476.5 689.9L476.5 700.1M472.9 691.4L480.1 698.6M472.9 698.6L480.1 691.4" stroke="#22b04b" stroke-width="1.75" fill="none"/><circle cx="476.5" cy="695.0" r="2.6" fill="#22b04b"/>
<path d="M485.0 698.1L495.2 698.1M490.1 693.0L490.1 703.2M486.5 694.5L493.7 701.7M486.5 701.7L493.7 694.5" stroke="#22b04b" stroke-width="1.75" fill="none"/><circle cx="490.1" cy="698.1" r="2.6" fill="#22b04b"/>
<path d="M498.6 701.5L508.8 701.5M503.7 696.4L503.7 706.6M500.1 697.9L507.3 705.1M500.1 705.1L507.3 697.9" stroke="#22b04b" stroke-width="1.75" fill="none"/><circle cx="503.7" cy="701.5" r="2.6" fill="#22b04b"/>
<path d="M512.2 703.4L522.4 703.4M517.3 698.3L517.3 708.5M513.7 699.8L520.9 707.0M513.7 707.0L520.9 699.8" stroke="#22b04b" stroke-width="1.75" fill="none"/><circle cx="517.3" cy="703.4" r="2.6" fill="#22b04b"/>
<path d="M525.8 705.1L536.0 705.1M530.9 700.0L530.9 710.2M527.3 701.5L534.5 708.7M527.3 708.7L534.5 701.5" stroke="#22b04b" stroke-width="1.75" fill="none"/><circle cx="530.9" cy="705.1" r="2.6" fill="#22b04b"/>
<path d="M539.4 705.9L549.6 705.9M544.5 700.8L544.5 711.0M540.9 702.2L548.1 709.5M540.9 709.5L548.1 702.2" stroke="#22b04b" stroke-width="1.75" fill="none"/><circle cx="544.5" cy="705.9" r="2.6" fill="#22b04b"/>
<path d="M553.0 706.5L563.2 706.5M558.1 701.4L558.1 711.6M554.5 702.9L561.7 710.1M554.5 710.1L561.7 702.9" stroke="#22b04b" stroke-width="1.75" fill="none"/><circle cx="558.1" cy="706.5" r="2.6" fill="#22b04b"/>
<path d="M566.6 707.0L576.8 707.0M571.7 701.9L571.7 712.1M568.1 703.4L575.3 710.6M568.1 710.6L575.3 703.4" stroke="#22b04b" stroke-width="1.75" fill="none"/><circle cx="571.7" cy="707.0" r="2.6" fill="#22b04b"/>
<path d="M580.2 707.7L590.4 707.7M585.3 702.6L585.3 712.8M581.7 704.1L588.9 711.3M581.7 711.3L588.9 704.1" stroke="#22b04b" stroke-width="1.75" fill="none"/><circle cx="585.3" cy="707.7" r="2.6" fill="#22b04b"/>
<path d="M593.8 708.2L604.0 708.2M598.9 703.1L598.9 713.3M595.3 704.6L602.5 711.8M595.3 711.8L602.5 704.6" stroke="#22b04b" stroke-width="1.75" fill="none"/><circle cx="598.9" cy="708.2" r="2.6" fill="#22b04b"/>
<path d="M607.4 708.9L617.6 708.9M612.5 703.8L612.5 714.0M608.9 705.3L616.1 712.5M608.9 712.5L616.1 705.3" stroke="#22b04b" stroke-width="1.75" fill="none"/><circle cx="612.5" cy="708.9" r="2.6" fill="#22b04b"/>
<path d="M621.0 708.9L631.2 708.9M626.1 703.8L626.1 714.0M622.5 705.3L629.7 712.5M622.5 712.5L629.7 705.3" stroke="#22b04b" stroke-width="1.75" fill="none"/><circle cx="626.1" cy="708.9" r="2.6" fill="#22b04b"/>
<path d="M634.6 709.4L644.8 709.4M639.7 704.3L639.7 714.5M636.1 705.8L643.3 713.0M636.1 713.0L643.3 705.8" stroke="#22b04b" stroke-width="1.75" fill="none"/><circle cx="639.7" cy="709.4" r="2.6" fill="#22b04b"/>
<path d="M648.2 709.9L658.4 709.9M653.3 704.8L653.3 715.0M649.7 706.3L656.9 713.6M649.7 713.6L656.9 706.3" stroke="#22b04b" stroke-width="1.75" fill="none"/><circle cx="653.3" cy="709.9" r="2.6" fill="#22b04b"/>
<path d="M661.8 710.6L672.0 710.6M666.9 705.5L666.9 715.7M663.3 707.0L670.5 714.2M663.3 714.2L670.5 707.0" stroke="#22b04b" stroke-width="1.75" fill="none"/><circle cx="666.9" cy="710.6" r="2.6" fill="#22b04b"/>
<path d="M675.4 711.1L685.6 711.1M680.5 706.0L680.5 716.2M676.9 707.5L684.1 714.7M676.9 714.7L684.1 707.5" stroke="#22b04b" stroke-width="1.75" fill="none"/><circle cx="680.5" cy="711.1" r="2.6" fill="#22b04b"/>
<path d="M689.0 711.3L699.2 711.3M694.1 706.2L694.1 716.4M690.5 707.7L697.7 714.9M690.5 714.9L697.7 707.7" stroke="#22b04b" stroke-width="1.75" fill="none"/><circle cx="694.1" cy="711.3" r="2.6" fill="#22b04b"/>
<path d="M702.6 711.3L712.8 711.3M707.7 706.2L707.7 716.4M704.1 707.7L711.3 714.9M704.1 714.9L711.3 707.7" stroke="#22b04b" stroke-width="1.75" fill="none"/><circle cx="707.7" cy="711.3" r="2.6" fill="#22b04b"/>
<path d="M716.2 711.3L726.4 711.3M721.3 706.2L721.3 716.4M717.7 707.7L724.9 714.9M717.7 714.9L724.9 707.7" stroke="#22b04b" stroke-width="1.75" fill="none"/><circle cx="721.3" cy="711.3" r="2.6" fill="#22b04b"/>
<path d="M729.8 711.3L740.0 711.3M734.9 706.2L734.9 716.4M731.3 707.7L738.5 714.9M731.3 714.9L738.5 707.7" stroke="#22b04b" stroke-width="1.75" fill="none"/><circle cx="734.9" cy="711.3" r="2.6" fill="#22b04b"/>
<path d="M743.4 712.2L753.6 712.2M748.5 707.1L748.5 717.3M744.9 708.6L752.1 715.8M744.9 715.8L752.1 708.6" stroke="#22b04b" stroke-width="1.75" fill="none"/><circle cx="748.5" cy="712.2" r="2.6" fill="#22b04b"/>
<path d="M757.0 713.4L767.2 713.4M762.1 708.3L762.1 718.5M758.5 709.8L765.7 717.0M758.5 717.0L765.7 709.8" stroke="#22b04b" stroke-width="1.75" fill="none"/><circle cx="762.1" cy="713.4" r="2.6" fill="#22b04b"/>
<path d="M770.6 714.1L780.8 714.1M775.7 709.0L775.7 719.2M772.1 710.5L779.3 717.7M772.1 717.7L779.3 710.5" stroke="#22b04b" stroke-width="1.75" fill="none"/><circle cx="775.7" cy="714.1" r="2.6" fill="#22b04b"/>
<path d="M784.2 714.6L794.4 714.6M789.3 709.5L789.3 719.7M785.7 711.0L793.0 718.2M785.7 718.2L793.0 711.0" stroke="#22b04b" stroke-width="1.75" fill="none"/><circle cx="789.3" cy="714.6" r="2.6" fill="#22b04b"/>
<path d="M797.8 714.6L808.0 714.6M802.9 709.5L802.9 719.7M799.3 711.0L806.6 718.2M799.3 718.2L806.6 711.0" stroke="#22b04b" stroke-width="1.75" fill="none"/><circle cx="802.9" cy="714.6" r="2.6" fill="#22b04b"/>
<path d="M811.4 714.9L821.6 714.9M816.5 709.8L816.5 720.0M812.9 711.3L820.2 718.5M812.9 718.5L820.2 711.3" stroke="#22b04b" stroke-width="1.75" fill="none"/><circle cx="816.5" cy="714.9" r="2.6" fill="#22b04b"/>
<path d="M825.1 714.9L835.3 714.9M830.2 709.8L830.2 720.0M826.5 711.3L833.8 718.5M826.5 718.5L833.8 711.3" stroke="#22b04b" stroke-width="1.75" fill="none"/><circle cx="830.2" cy="714.9" r="2.6" fill="#22b04b"/>
<path d="M838.7 714.9L848.9 714.9M843.8 709.8L843.8 720.0M840.1 711.3L847.4 718.5M840.1 718.5L847.4 711.3" stroke="#22b04b" stroke-width="1.75" fill="none"/><circle cx="843.8" cy="714.9" r="2.6" fill="#22b04b"/>
<path d="M852.3 714.2L862.5 714.2M857.4 709.1L857.4 719.3M853.8 710.6L861.0 717.8M853.8 717.8L861.0 710.6" stroke="#22b04b" stroke-width="1.75" fill="none"/><circle cx="857.4" cy="714.2" r="2.6" fill="#22b04b"/>
<path d="M865.9 713.0L876.1 713.0M871.0 707.9L871.0 718.1M867.4 709.4L874.6 716.6M867.4 716.6L874.6 709.4" stroke="#22b04b" stroke-width="1.75" fill="none"/><circle cx="871.0" cy="713.0" r="2.6" fill="#22b04b"/>
<path d="M879.5 710.6L889.7 710.6M884.6 705.5L884.6 715.7M881.0 707.0L888.2 714.2M881.0 714.2L888.2 707.0" stroke="#22b04b" stroke-width="1.75" fill="none"/><circle cx="884.6" cy="710.6" r="2.6" fill="#22b04b"/>
<path d="M893.1 708.7L903.3 708.7M898.2 703.6L898.2 713.8M894.6 705.1L901.8 712.3M894.6 712.3L901.8 705.1" stroke="#22b04b" stroke-width="1.75" fill="none"/><circle cx="898.2" cy="708.7" r="2.6" fill="#22b04b"/>
<path d="M906.7 707.0L916.9 707.0M911.8 701.9L911.8 712.1M908.2 703.4L915.4 710.6M908.2 710.6L915.4 703.4" stroke="#22b04b" stroke-width="1.75" fill="none"/><circle cx="911.8" cy="707.0" r="2.6" fill="#22b04b"/>
<path d="M920.3 706.5L930.5 706.5M925.4 701.4L925.4 711.6M921.8 702.9L929.0 710.1M921.8 710.1L929.0 702.9" stroke="#22b04b" stroke-width="1.75" fill="none"/><circle cx="925.4" cy="706.5" r="2.6" fill="#22b04b"/>
<path d="M933.9 708.7L944.1 708.7M939.0 703.6L939.0 713.8M935.4 705.1L942.6 712.3M935.4 712.3L942.6 705.1" stroke="#22b04b" stroke-width="1.75" fill="none"/><circle cx="939.0" cy="708.7" r="2.6" fill="#22b04b"/>
<path d="M947.5 711.8L957.7 711.8M952.6 706.7L952.6 716.9M949.0 708.2L956.2 715.4M949.0 715.4L956.2 708.2" stroke="#22b04b" stroke-width="1.75" fill="none"/><circle cx="952.6" cy="711.8" r="2.6" fill="#22b04b"/>
<path d="M961.1 714.6L971.3 714.6M966.2 709.5L966.2 719.7M962.6 711.0L969.8 718.2M962.6 718.2L969.8 711.0" stroke="#22b04b" stroke-width="1.75" fill="none"/><circle cx="966.2" cy="714.6" r="2.6" fill="#22b04b"/>
<path d="M974.7 716.6L984.9 716.6M979.8 711.5L979.8 721.7M976.2 713.0L983.4 720.2M976.2 720.2L983.4 713.0" stroke="#22b04b" stroke-width="1.75" fill="none"/><circle cx="979.8" cy="716.6" r="2.6" fill="#22b04b"/>
<path d="M988.3 717.0L998.5 717.0M993.4 711.9L993.4 722.1M989.8 713.4L997.0 720.6M989.8 720.6L997.0 713.4" stroke="#22b04b" stroke-width="1.75" fill="none"/><circle cx="993.4" cy="717.0" r="2.6" fill="#22b04b"/>
<path d="M1001.9 716.1L1012.1 716.1M1007.0 711.0L1007.0 721.2M1003.4 712.5L1010.6 719.7M1003.4 719.7L1010.6 712.5" stroke="#22b04b" stroke-width="1.75" fill="none"/><circle cx="1007.0" cy="716.1" r="2.6" fill="#22b04b"/>
<path d="M1015.5 715.4L1025.7 715.4M1020.6 710.3L1020.6 720.5M1017.0 711.8L1024.2 719.0M1017.0 719.0L1024.2 711.8" stroke="#22b04b" stroke-width="1.75" fill="none"/><circle cx="1020.6" cy="715.4" r="2.6" fill="#22b04b"/>
<path d="M1029.1 715.1L1039.3 715.1M1034.2 710.0L1034.2 720.2M1030.6 711.5L1037.8 718.7M1030.6 718.7L1037.8 711.5" stroke="#22b04b" stroke-width="1.75" fill="none"/><circle cx="1034.2" cy="715.1" r="2.6" fill="#22b04b"/>
<path d="M1042.7 715.1L1052.9 715.1M1047.8 710.0L1047.8 720.2M1044.2 711.5L1051.4 718.7M1044.2 718.7L1051.4 711.5" stroke="#22b04b" stroke-width="1.75" fill="none"/><circle cx="1047.8" cy="715.1" r="2.6" fill="#22b04b"/>
<path d="M1056.3 715.1L1066.5 715.1M1061.4 710.0L1061.4 720.2M1057.8 711.5L1065.0 718.7M1057.8 718.7L1065.0 711.5" stroke="#22b04b" stroke-width="1.75" fill="none"/><circle cx="1061.4" cy="715.1" r="2.6" fill="#22b04b"/>
<path d="M1069.9 715.3L1080.1 715.3M1075.0 710.2L1075.0 720.4M1071.4 711.7L1078.6 718.9M1071.4 718.9L1078.6 711.7" stroke="#22b04b" stroke-width="1.75" fill="none"/><circle cx="1075.0" cy="715.3" r="2.6" fill="#22b04b"/>
<path d="M1083.5 715.4L1093.7 715.4M1088.6 710.3L1088.6 720.5M1085.0 711.8L1092.2 719.0M1085.0 719.0L1092.2 711.8" stroke="#22b04b" stroke-width="1.75" fill="none"/><circle cx="1088.6" cy="715.4" r="2.6" fill="#22b04b"/>
<path d="M1097.1 715.8L1107.3 715.8M1102.2 710.7L1102.2 720.9M1098.6 712.2L1105.8 719.4M1098.6 719.4L1105.8 712.2" stroke="#22b04b" stroke-width="1.75" fill="none"/><circle cx="1102.2" cy="715.8" r="2.6" fill="#22b04b"/>
<path d="M1110.7 715.4L1120.9 715.4M1115.8 710.3L1115.8 720.5M1112.2 711.8L1119.4 719.0M1112.2 719.0L1119.4 711.8" stroke="#22b04b" stroke-width="1.75" fill="none"/><circle cx="1115.8" cy="715.4" r="2.6" fill="#22b04b"/>
<path d="M1124.3 715.2L1134.5 715.2M1129.4 710.1L1129.4 720.3M1125.8 711.6L1133.0 718.8M1125.8 718.8L1133.0 711.6" stroke="#22b04b" stroke-width="1.75" fill="none"/><circle cx="1129.4" cy="715.2" r="2.6" fill="#22b04b"/>
<path d="M1137.9 715.8L1148.1 715.8M1143.0 710.7L1143.0 720.9M1139.4 712.2L1146.6 719.4M1139.4 719.4L1146.6 712.2" stroke="#22b04b" stroke-width="1.75" fill="none"/><circle cx="1143.0" cy="715.8" r="2.6" fill="#22b04b"/>
<path d="M1151.5 717.4L1161.7 717.4M1156.6 712.3L1156.6 722.5M1153.0 713.8L1160.2 721.0M1153.0 721.0L1160.2 713.8" stroke="#22b04b" stroke-width="1.75" fill="none"/><circle cx="1156.6" cy="717.4" r="2.6" fill="#22b04b"/>
<path d="M1165.1 719.2L1175.3 719.2M1170.2 714.1L1170.2 724.3M1166.6 715.6L1173.8 722.8M1166.6 722.8L1173.8 715.6" stroke="#22b04b" stroke-width="1.75" fill="none"/><circle cx="1170.2" cy="719.2" r="2.6" fill="#22b04b"/>
<path d="M1178.7 720.8L1188.9 720.8M1183.8 715.7L1183.8 725.9M1180.2 717.2L1187.4 724.4M1180.2 724.4L1187.4 717.2" stroke="#22b04b" stroke-width="1.75" fill="none"/><circle cx="1183.8" cy="720.8" r="2.6" fill="#22b04b"/>
<path d="M95.6 720.7L136.4 720.7L152.3 719.5L169.0 709.1L180.1 692.4L193.5 648.0L206.8 576.8L220.1 518.7L227.2 499.2L232.6 491.9L237.5 492.9L242.4 500.2L249.1 522.6L260.2 574.6L273.5 630.1L286.9 661.3L299.1 678.0L311.0 685.9L324.6 690.5L340.5 692.7L354.1 693.1L367.7 692.5L381.3 691.6L394.9 690.7L408.5 691.2L422.1 691.6L435.7 691.8L449.3 691.2L462.9 692.5L476.5 695.0L490.1 698.1L503.7 701.5L517.3 703.4L530.9 705.1L544.5 705.9L558.1 706.5L571.7 707.0L585.3 707.7L598.9 708.2L612.5 708.9L626.1 708.9L639.7 709.4L653.3 709.9L666.9 710.6L680.5 711.1L694.1 711.3L707.7 711.3L721.3 711.3L734.9 711.3L748.5 712.2L762.1 713.4L775.7 714.1L789.3 714.6L802.9 714.6L816.5 714.9L830.2 714.9L843.8 714.9L857.4 714.2L871.0 713.0L884.6 710.6L898.2 708.7L911.8 707.0L925.4 706.5L939.0 708.7L952.6 711.8L966.2 714.6L979.8 716.6L993.4 717.0L1007.0 716.1L1020.6 715.4L1034.2 715.1L1047.8 715.1L1061.4 715.1L1075.0 715.3L1088.6 715.4L1102.2 715.8L1115.8 715.4L1129.4 715.2L1143.0 715.8L1156.6 717.4L1170.2 719.2L1183.8 720.8" fill="none" stroke="#22b04b" stroke-width="2.9" stroke-linejoin="round" stroke-dasharray="7.8 11.4" stroke-linecap="round"/>
<path d="M175.0 720.2L188.6 719.8L202.2 719.1L215.8 718.4L229.4 717.6L243.0 716.9L256.6 716.4L270.2 713.9L283.8 708.0L297.4 694.6L311.0 672.1L324.6 644.0L338.2 617.9L351.8 606.4L365.4 613.2L379.0 632.5L392.6 650.6L406.2 661.5L419.8 666.3L433.4 667.4L447.0 667.7L460.6 669.2L474.2 674.0L487.8 681.2L501.4 687.9L515.0 693.1L528.6 696.2L542.2 697.4L555.8 697.9L569.4 697.4L583.0 696.9L596.6 696.7L610.2 697.4L623.8 699.8L637.4 702.7L651.1 704.6L664.7 706.3L678.3 707.7L691.9 708.2L705.5 708.2L719.1 707.7L732.7 707.0L746.3 706.5L759.9 706.5L773.5 707.0L787.1 708.2L800.7 707.4L814.3 708.3L827.9 709.9L841.5 711.0L855.1 710.6L868.7 708.1L882.3 704.1L895.9 700.2L909.5 698.4L923.1 698.4L936.7 700.8L950.3 704.3L963.9 708.0L977.5 711.0L991.1 712.8L1004.7 713.5L1018.3 712.8L1031.9 711.6L1045.5 710.9L1059.1 711.1L1072.7 711.7L1086.3 711.5L1099.9 711.0L1113.5 710.3L1127.1 709.7L1140.7 709.1L1154.3 709.5L1168.0 713.8L1181.6 716.6L1195.2 717.8" fill="none" stroke="#3a53a4" stroke-width="1.8" stroke-linejoin="round"/>
<circle cx="175.0" cy="720.2" r="4.25" fill="#3a53a4"/>
<circle cx="188.6" cy="719.8" r="4.25" fill="#3a53a4"/>
<circle cx="202.2" cy="719.1" r="4.25" fill="#3a53a4"/>
<circle cx="215.8" cy="718.4" r="4.25" fill="#3a53a4"/>
<circle cx="229.4" cy="717.6" r="4.25" fill="#3a53a4"/>
<circle cx="243.0" cy="716.9" r="4.25" fill="#3a53a4"/>
<circle cx="256.6" cy="716.4" r="4.25" fill="#3a53a4"/>
<circle cx="270.2" cy="713.9" r="4.25" fill="#3a53a4"/>
<circle cx="283.8" cy="708.0" r="4.25" fill="#3a53a4"/>
<circle cx="297.4" cy="694.6" r="4.25" fill="#3a53a4"/>
<circle cx="311.0" cy="672.1" r="4.25" fill="#3a53a4"/>
<circle cx="324.6" cy="644.0" r="4.25" fill="#3a53a4"/>
<circle cx="338.2" cy="617.9" r="4.25" fill="#3a53a4"/>
<circle cx="351.8" cy="606.4" r="4.25" fill="#3a53a4"/>
<circle cx="365.4" cy="613.2" r="4.25" fill="#3a53a4"/>
<circle cx="379.0" cy="632.5" r="4.25" fill="#3a53a4"/>
<circle cx="392.6" cy="650.6" r="4.25" fill="#3a53a4"/>
<circle cx="406.2" cy="661.5" r="4.25" fill="#3a53a4"/>
<circle cx="419.8" cy="666.3" r="4.25" fill="#3a53a4"/>
<circle cx="433.4" cy="667.4" r="4.25" fill="#3a53a4"/>
<circle cx="447.0" cy="667.7" r="4.25" fill="#3a53a4"/>
<circle cx="460.6" cy="669.2" r="4.25" fill="#3a53a4"/>
<circle cx="474.2" cy="674.0" r="4.25" fill="#3a53a4"/>
<circle cx="487.8" cy="681.2" r="4.25" fill="#3a53a4"/>
<circle cx="501.4" cy="687.9" r="4.25" fill="#3a53a4"/>
<circle cx="515.0" cy="693.1" r="4.25" fill="#3a53a4"/>
<circle cx="528.6" cy="696.2" r="4.25" fill="#3a53a4"/>
<circle cx="542.2" cy="697.4" r="4.25" fill="#3a53a4"/>
<circle cx="555.8" cy="697.9" r="4.25" fill="#3a53a4"/>
<circle cx="569.4" cy="697.4" r="4.25" fill="#3a53a4"/>
<circle cx="583.0" cy="696.9" r="4.25" fill="#3a53a4"/>
<circle cx="596.6" cy="696.7" r="4.25" fill="#3a53a4"/>
<circle cx="610.2" cy="697.4" r="4.25" fill="#3a53a4"/>
<circle cx="623.8" cy="699.8" r="4.25" fill="#3a53a4"/>
<circle cx="637.4" cy="702.7" r="4.25" fill="#3a53a4"/>
<circle cx="651.1" cy="704.6" r="4.25" fill="#3a53a4"/>
<circle cx="664.7" cy="706.3" r="4.25" fill="#3a53a4"/>
<circle cx="678.3" cy="707.7" r="4.25" fill="#3a53a4"/>
<circle cx="691.9" cy="708.2" r="4.25" fill="#3a53a4"/>
<circle cx="705.5" cy="708.2" r="4.25" fill="#3a53a4"/>
<circle cx="719.1" cy="707.7" r="4.25" fill="#3a53a4"/>
<circle cx="732.7" cy="707.0" r="4.25" fill="#3a53a4"/>
<circle cx="746.3" cy="706.5" r="4.25" fill="#3a53a4"/>
<circle cx="759.9" cy="706.5" r="4.25" fill="#3a53a4"/>
<circle cx="773.5" cy="707.0" r="4.25" fill="#3a53a4"/>
<circle cx="787.1" cy="708.2" r="4.25" fill="#3a53a4"/>
<circle cx="800.7" cy="707.4" r="4.25" fill="#3a53a4"/>
<circle cx="814.3" cy="708.3" r="4.25" fill="#3a53a4"/>
<circle cx="827.9" cy="709.9" r="4.25" fill="#3a53a4"/>
<circle cx="841.5" cy="711.0" r="4.25" fill="#3a53a4"/>
<circle cx="855.1" cy="710.6" r="4.25" fill="#3a53a4"/>
<circle cx="868.7" cy="708.1" r="4.25" fill="#3a53a4"/>
<circle cx="882.3" cy="704.1" r="4.25" fill="#3a53a4"/>
<circle cx="895.9" cy="700.2" r="4.25" fill="#3a53a4"/>
<circle cx="909.5" cy="698.4" r="4.25" fill="#3a53a4"/>
<circle cx="923.1" cy="698.4" r="4.25" fill="#3a53a4"/>
<circle cx="936.7" cy="700.8" r="4.25" fill="#3a53a4"/>
<circle cx="950.3" cy="704.3" r="4.25" fill="#3a53a4"/>
<circle cx="963.9" cy="708.0" r="4.25" fill="#3a53a4"/>
<circle cx="977.5" cy="711.0" r="4.25" fill="#3a53a4"/>
<circle cx="991.1" cy="712.8" r="4.25" fill="#3a53a4"/>
<circle cx="1004.7" cy="713.5" r="4.25" fill="#3a53a4"/>
<circle cx="1018.3" cy="712.8" r="4.25" fill="#3a53a4"/>
<circle cx="1031.9" cy="711.6" r="4.25" fill="#3a53a4"/>
<circle cx="1045.5" cy="710.9" r="4.25" fill="#3a53a4"/>
<circle cx="1059.1" cy="711.1" r="4.25" fill="#3a53a4"/>
<circle cx="1072.7" cy="711.7" r="4.25" fill="#3a53a4"/>
<circle cx="1086.3" cy="711.5" r="4.25" fill="#3a53a4"/>
<circle cx="1099.9" cy="711.0" r="4.25" fill="#3a53a4"/>
<circle cx="1113.5" cy="710.3" r="4.25" fill="#3a53a4"/>
<circle cx="1127.1" cy="709.7" r="4.25" fill="#3a53a4"/>
<circle cx="1140.7" cy="709.1" r="4.25" fill="#3a53a4"/>
<circle cx="1154.3" cy="709.5" r="4.25" fill="#3a53a4"/>
<circle cx="1168.0" cy="713.8" r="4.25" fill="#3a53a4"/>
<circle cx="1181.6" cy="716.6" r="4.25" fill="#3a53a4"/>
<circle cx="1195.2" cy="717.8" r="4.25" fill="#3a53a4"/>
<path d="M175.0 720.2L202.2 719.1L229.4 717.6L256.6 716.4L274.7 714.8L288.3 710.2L303.5 693.7L315.9 669.8L324.2 655.4L333.0 637.7L341.8 621.2L349.5 612.3L357.2 607.4L364.5 607.9L372.9 613.8L383.3 627.3L393.7 642.9L406.1 656.3L417.5 662.0L428.9 665.4L447.0 667.4L460.6 669.2L474.2 674.0L487.8 681.2L501.4 687.9L515.0 693.1L528.6 696.2L542.2 697.4L555.8 697.9L569.4 697.4L583.0 696.9L596.6 696.7L610.2 697.4L623.8 699.8L637.4 702.7L651.1 704.6L664.7 706.3L678.3 707.7L691.9 708.2L705.5 708.2L719.1 707.7L732.7 707.0L746.3 706.5L759.9 706.5L773.5 707.0L787.1 708.2L800.7 707.4L814.3 708.3L827.9 709.9L841.5 711.0L855.1 710.6L868.7 708.1L882.3 704.1L895.9 700.2L909.5 698.4L923.1 698.4L936.7 700.8L950.3 704.3L963.9 708.0L977.5 711.0L991.1 712.8L1004.7 713.5L1018.3 712.8L1031.9 711.6L1045.5 710.9L1059.1 711.1L1072.7 711.7L1086.3 711.5L1099.9 711.0L1113.5 710.3L1127.1 709.7L1140.7 709.1L1154.3 709.5L1168.0 713.8L1181.6 716.6L1195.2 717.8" fill="none" stroke="#3a53a4" stroke-width="2.9" stroke-linejoin="round" stroke-dasharray="7.8 11.4" stroke-linecap="round"/>
<path d="M265.6 719.5L279.2 718.9L292.8 719.9L306.4 720.3L320.1 720.3L333.7 719.9L347.3 718.5L360.9 712.2L374.5 698.9L388.1 674.0L401.7 634.7L415.3 594.1L428.9 571.6L442.5 578.4L456.1 606.1L469.7 637.0L483.3 662.5L496.9 678.4L510.5 688.5L524.1 694.5L537.7 696.2L551.3 696.2L564.9 695.5L578.5 695.0L592.1 695.5L605.7 696.2L619.3 696.7L632.9 697.4L646.5 698.1L660.1 700.3L673.7 703.4L687.3 705.1L700.9 705.9L714.5 705.3L728.1 704.6L741.7 703.9L755.3 703.9L768.9 704.3L782.5 704.1L796.1 704.6L809.7 705.3L823.4 707.0L837.0 708.9L850.6 709.4L864.2 707.0L877.8 702.7L891.4 697.4L905.0 694.5L918.6 693.8L932.2 695.7L945.8 699.8L959.4 704.1L973.0 708.2L986.6 710.6L1000.2 712.0L1013.8 711.5L1027.4 710.4L1041.0 709.8L1054.6 709.9L1068.2 711.2L1081.8 711.4L1095.4 711.4L1109.0 710.8L1122.6 710.2L1136.2 709.4L1149.8 709.4L1163.4 710.4L1177.0 711.8L1190.6 713.8" fill="none" stroke="#ed1c24" stroke-width="1.9" stroke-linejoin="round"/>
<rect x="261.5" y="715.4" width="8.2" height="8.2" fill="#ed1c24"/>
<rect x="275.1" y="714.8" width="8.2" height="8.2" fill="#ed1c24"/>
<rect x="288.7" y="715.8" width="8.2" height="8.2" fill="#ed1c24"/>
<rect x="302.3" y="716.2" width="8.2" height="8.2" fill="#ed1c24"/>
<rect x="316.0" y="716.2" width="8.2" height="8.2" fill="#ed1c24"/>
<rect x="329.6" y="715.8" width="8.2" height="8.2" fill="#ed1c24"/>
<rect x="343.2" y="714.4" width="8.2" height="8.2" fill="#ed1c24"/>
<rect x="356.8" y="708.1" width="8.2" height="8.2" fill="#ed1c24"/>
<rect x="370.4" y="694.8" width="8.2" height="8.2" fill="#ed1c24"/>
<rect x="384.0" y="669.9" width="8.2" height="8.2" fill="#ed1c24"/>
<rect x="397.6" y="630.6" width="8.2" height="8.2" fill="#ed1c24"/>
<rect x="411.2" y="590.0" width="8.2" height="8.2" fill="#ed1c24"/>
<rect x="424.8" y="567.5" width="8.2" height="8.2" fill="#ed1c24"/>
<rect x="438.4" y="574.3" width="8.2" height="8.2" fill="#ed1c24"/>
<rect x="452.0" y="602.0" width="8.2" height="8.2" fill="#ed1c24"/>
<rect x="465.6" y="632.9" width="8.2" height="8.2" fill="#ed1c24"/>
<rect x="479.2" y="658.4" width="8.2" height="8.2" fill="#ed1c24"/>
<rect x="492.8" y="674.3" width="8.2" height="8.2" fill="#ed1c24"/>
<rect x="506.4" y="684.4" width="8.2" height="8.2" fill="#ed1c24"/>
<rect x="520.0" y="690.4" width="8.2" height="8.2" fill="#ed1c24"/>
<rect x="533.6" y="692.1" width="8.2" height="8.2" fill="#ed1c24"/>
<rect x="547.2" y="692.1" width="8.2" height="8.2" fill="#ed1c24"/>
<rect x="560.8" y="691.4" width="8.2" height="8.2" fill="#ed1c24"/>
<rect x="574.4" y="690.9" width="8.2" height="8.2" fill="#ed1c24"/>
<rect x="588.0" y="691.4" width="8.2" height="8.2" fill="#ed1c24"/>
<rect x="601.6" y="692.1" width="8.2" height="8.2" fill="#ed1c24"/>
<rect x="615.2" y="692.6" width="8.2" height="8.2" fill="#ed1c24"/>
<rect x="628.8" y="693.3" width="8.2" height="8.2" fill="#ed1c24"/>
<rect x="642.4" y="694.0" width="8.2" height="8.2" fill="#ed1c24"/>
<rect x="656.0" y="696.2" width="8.2" height="8.2" fill="#ed1c24"/>
<rect x="669.6" y="699.3" width="8.2" height="8.2" fill="#ed1c24"/>
<rect x="683.2" y="701.0" width="8.2" height="8.2" fill="#ed1c24"/>
<rect x="696.8" y="701.8" width="8.2" height="8.2" fill="#ed1c24"/>
<rect x="710.4" y="701.2" width="8.2" height="8.2" fill="#ed1c24"/>
<rect x="724.0" y="700.5" width="8.2" height="8.2" fill="#ed1c24"/>
<rect x="737.6" y="699.8" width="8.2" height="8.2" fill="#ed1c24"/>
<rect x="751.2" y="699.8" width="8.2" height="8.2" fill="#ed1c24"/>
<rect x="764.8" y="700.2" width="8.2" height="8.2" fill="#ed1c24"/>
<rect x="778.4" y="700.0" width="8.2" height="8.2" fill="#ed1c24"/>
<rect x="792.0" y="700.5" width="8.2" height="8.2" fill="#ed1c24"/>
<rect x="805.6" y="701.2" width="8.2" height="8.2" fill="#ed1c24"/>
<rect x="819.3" y="702.9" width="8.2" height="8.2" fill="#ed1c24"/>
<rect x="832.9" y="704.8" width="8.2" height="8.2" fill="#ed1c24"/>
<rect x="846.5" y="705.3" width="8.2" height="8.2" fill="#ed1c24"/>
<rect x="860.1" y="702.9" width="8.2" height="8.2" fill="#ed1c24"/>
<rect x="873.7" y="698.6" width="8.2" height="8.2" fill="#ed1c24"/>
<rect x="887.3" y="693.3" width="8.2" height="8.2" fill="#ed1c24"/>
<rect x="900.9" y="690.4" width="8.2" height="8.2" fill="#ed1c24"/>
<rect x="914.5" y="689.7" width="8.2" height="8.2" fill="#ed1c24"/>
<rect x="928.1" y="691.6" width="8.2" height="8.2" fill="#ed1c24"/>
<rect x="941.7" y="695.7" width="8.2" height="8.2" fill="#ed1c24"/>
<rect x="955.3" y="700.0" width="8.2" height="8.2" fill="#ed1c24"/>
<rect x="968.9" y="704.1" width="8.2" height="8.2" fill="#ed1c24"/>
<rect x="982.5" y="706.5" width="8.2" height="8.2" fill="#ed1c24"/>
<rect x="996.1" y="707.9" width="8.2" height="8.2" fill="#ed1c24"/>
<rect x="1009.7" y="707.4" width="8.2" height="8.2" fill="#ed1c24"/>
<rect x="1023.3" y="706.3" width="8.2" height="8.2" fill="#ed1c24"/>
<rect x="1036.9" y="705.7" width="8.2" height="8.2" fill="#ed1c24"/>
<rect x="1050.5" y="705.8" width="8.2" height="8.2" fill="#ed1c24"/>
<rect x="1064.1" y="707.1" width="8.2" height="8.2" fill="#ed1c24"/>
<rect x="1077.7" y="707.3" width="8.2" height="8.2" fill="#ed1c24"/>
<rect x="1091.3" y="707.3" width="8.2" height="8.2" fill="#ed1c24"/>
<rect x="1104.9" y="706.7" width="8.2" height="8.2" fill="#ed1c24"/>
<rect x="1118.5" y="706.1" width="8.2" height="8.2" fill="#ed1c24"/>
<rect x="1132.1" y="705.3" width="8.2" height="8.2" fill="#ed1c24"/>
<rect x="1145.7" y="705.3" width="8.2" height="8.2" fill="#ed1c24"/>
<rect x="1159.3" y="706.3" width="8.2" height="8.2" fill="#ed1c24"/>
<rect x="1172.9" y="707.7" width="8.2" height="8.2" fill="#ed1c24"/>
<rect x="1186.5" y="709.7" width="8.2" height="8.2" fill="#ed1c24"/>
<path d="M268.1 719.5L270.4 719.4L272.7 719.3L274.9 719.2L277.2 719.1L279.5 719.0L281.7 718.9L284.0 719.1L286.3 719.2L288.5 719.4L290.8 719.6L293.1 719.7L295.3 719.9L297.6 720.0L299.9 720.0L302.1 720.1L304.4 720.2L306.7 720.2L308.9 720.3L311.2 720.3L313.5 720.3L315.7 720.3L318.0 720.3L320.3 720.3L322.5 720.3L324.8 720.2L327.1 720.2L329.3 720.1L331.6 720.0L333.9 720.0L336.1 719.9L338.4 719.7L340.7 719.4L342.9 719.2L345.2 719.0L347.5 718.8L349.8 718.5L352.0 717.5L354.3 716.4L356.6 715.4L358.8 714.3L361.1 713.2L363.4 712.2L365.6 710.0L367.9 707.8L370.2 705.6L372.4 703.4L374.7 701.1L377.0 698.9L379.2 694.8L381.5 690.6L383.8 686.5L386.0 682.3L388.3 678.1L390.6 674.0L392.8 667.4L395.1 660.9L397.4 654.3L399.6 647.8L401.9 641.3L404.2 634.7L406.4 627.9L408.7 621.2L411.0 614.4L413.2 607.6L415.5 600.8L417.8 594.1L420.0 590.3L422.3 586.6L424.6 582.9L426.8 579.1L429.1 575.4L431.4 571.6L433.6 572.8L435.9 573.9L438.2 575.0L440.4 576.1L442.7 577.2L445.0 578.4L447.2 583.0L449.5 587.6L451.8 592.2L454.0 596.8L456.3 601.4L458.6 606.1L460.8 611.2L463.1 616.4L465.4 621.5L467.6 626.7L469.9 631.9L472.2 637.0L474.4 641.3L476.7 645.5L479.0 649.8L481.2 654.0L483.5 658.2L485.8 662.5L488.0 665.1L490.3 667.8L492.6 670.4L494.8 673.1L497.1 675.7L499.4 678.4L501.6 680.1L503.9 681.7L506.2 683.4L508.4 685.1L510.7 686.8L513.0 688.5L515.2 689.5L517.5 690.5L519.8 691.5L522.1 692.5L524.3 693.5L526.6 694.5L528.9 694.8L531.1 695.1L533.4 695.4L535.7 695.7L537.9 695.9L540.2 696.2L542.5 696.2L544.7 696.2L547.0 696.2L549.3 696.2L551.5 696.2L553.8 696.2L556.1 696.1L558.3 696.0L560.6 695.9L560.4 695.8L562.6 695.6L564.9 695.5L567.2 695.4L569.4 695.4L571.7 695.3L574.0 695.2L576.2 695.1L578.5 695.0L580.8 695.1L583.0 695.2L585.3 695.3L587.6 695.4L589.8 695.4L592.1 695.5L594.4 695.6L596.6 695.8L598.9 695.9L601.2 696.0L603.4 696.1L605.7 696.2L608.0 696.3L610.2 696.4L612.5 696.5L614.8 696.5L617.0 696.6L619.3 696.7L621.6 696.8L623.8 696.9L626.1 697.0L628.4 697.1L630.6 697.3L632.9 697.4L635.2 697.5L637.4 697.6L639.7 697.7L642.0 697.8L644.2 697.9L646.5 698.1L648.8 698.4L651.0 698.8L653.3 699.2L655.6 699.6L657.9 699.9L660.1 700.3L662.4 700.8L664.7 701.3L666.9 701.9L669.2 702.4L671.5 702.9L673.7 703.4L676.0 703.7L678.3 704.0L680.5 704.2L682.8 704.5L685.1 704.8L687.3 705.1L689.6 705.2L691.9 705.3L694.1 705.5L696.4 705.6L698.7 705.7L700.9 705.9L703.2 705.8L705.5 705.7L707.7 705.6L710.0 705.5L712.3 705.4L714.5 705.3L716.8 705.2L719.1 705.0L721.3 704.9L723.6 704.8L725.9 704.7L728.1 704.6L730.4 704.5L732.7 704.4L734.9 704.2L737.2 704.1L739.5 704.0L741.7 703.9L744.0 703.9L746.3 703.9L748.5 703.9L750.8 703.9L753.1 703.9L755.3 703.9L757.6 704.0L759.9 704.0L762.1 704.1L764.4 704.2L766.7 704.2L768.9 704.3L771.2 704.3L773.5 704.2L775.7 704.2L778.0 704.2L780.3 704.1L782.5 704.1L784.8 704.2L787.1 704.3L789.3 704.3L791.6 704.4L793.9 704.5L796.1 704.6L798.4 704.7L800.7 704.8L802.9 704.9L805.2 705.0L807.5 705.2L809.7 705.3L812.0 705.6L814.3 705.9L816.5 706.1L818.8 706.4L821.1 706.7L823.4 707.0L825.6 707.3L827.9 707.6L830.2 708.0L832.4 708.3L834.7 708.6L837.0 708.9L839.2 709.0L841.5 709.0L843.8 709.1L846.0 709.2L848.3 709.3L850.6 709.4L852.8 709.0L855.1 708.6L857.4 708.2L859.6 707.8L861.9 707.4L864.2 707.0L866.4 706.3L868.7 705.6L871.0 704.9L873.2 704.2L875.5 703.5L877.8 702.7L880.0 701.8L882.3 701.0L884.6 700.1L886.8 699.2L889.1 698.3L891.4 697.4L893.6 696.9L895.9 696.4L898.2 696.0L900.4 695.5L902.7 695.0L905.0 694.5L907.2 694.4L909.5 694.3L911.8 694.2L914.0 694.0L916.3 693.9L918.6 693.8L920.8 694.1L923.1 694.4L925.4 694.7L927.6 695.1L929.9 695.4L932.2 695.7L934.4 696.4L936.7 697.1L939.0 697.8L941.2 698.4L943.5 699.1L945.8 699.8L948.0 700.5L950.3 701.2L952.6 702.0L954.8 702.7L957.1 703.4L959.4 704.1L961.6 704.8L963.9 705.5L966.2 706.1L968.4 706.8L970.7 707.5L973.0 708.2L975.2 708.6L977.5 709.0L979.8 709.4L982.0 709.8L984.3 710.2L986.6 710.6L988.9 710.9L991.1 711.1L993.4 711.3L995.7 711.5L997.9 711.8L1000.2 712.0L1002.5 711.9L1004.7 711.8L1007.0 711.8L1009.3 711.7L1011.5 711.6L1013.8 711.5L1016.1 711.3L1018.3 711.2L1020.6 711.0L1022.9 710.8L1025.1 710.6L1027.4 710.4L1029.7 710.3L1031.9 710.2L1034.2 710.1L1036.5 710.0L1038.7 709.9L1041.0 709.8L1043.3 709.8L1045.5 709.8L1047.8 709.9L1050.1 709.9L1052.3 709.9L1054.6 709.9L1056.9 710.2L1059.1 710.4L1061.4 710.6L1063.7 710.8L1065.9 711.0L1068.2 711.2L1070.5 711.2L1072.7 711.3L1075.0 711.3L1077.3 711.3L1079.5 711.4L1081.8 711.4L1084.1 711.4L1086.3 711.4L1088.6 711.4L1090.9 711.4L1093.1 711.4L1095.4 711.4L1097.7 711.3L1099.9 711.2L1102.2 711.1L1104.5 711.0L1106.7 710.9L1109.0 710.8L1111.3 710.7L1113.5 710.6L1115.8 710.5L1118.1 710.4L1120.3 710.3L1122.6 710.2L1124.9 710.1L1127.1 709.9L1129.4 709.8L1131.7 709.7L1133.9 709.5L1136.2 709.4L1138.5 709.4L1140.7 709.4L1143.0 709.4L1145.3 709.4L1147.5 709.4L1149.8 709.4L1152.1 709.5L1154.3 709.7L1156.6 709.9L1158.9 710.1L1161.2 710.3L1163.4 710.4L1165.7 710.7L1168.0 710.9L1170.2 711.1L1172.5 711.3L1174.8 711.6L1177.0 711.8L1179.3 712.1L1181.6 712.5L1183.8 712.8L1186.1 713.2L1188.4 713.5L1190.6 713.8" fill="none" stroke="#ed1c24" stroke-width="2.9" stroke-linejoin="round" stroke-dasharray="7.8 11.4" stroke-linecap="round"/>
<rect x="315.2" y="444.6" width="671.3" height="47.6" fill="#fff" stroke="#858585" stroke-width="1.6"/>
<path d="M320.2 457.5H370.8" stroke="#22b04b" stroke-width="1.2" fill="none"/><path d="M341.2 457.5L349.8 457.5M345.5 453.2L345.5 461.8M342.5 454.5L348.5 460.5M342.5 460.5L348.5 454.5" stroke="#22b04b" stroke-width="1.5" fill="none"/><circle cx="345.5" cy="457.5" r="2.6" fill="#22b04b"/>
<path d="M321.5 479.1H370.8" stroke="#22b04b" stroke-width="2.9" stroke-dasharray="7.4 11.9" stroke-linecap="round" fill="none"/>
<text x="374.2" y="463.4" font-size="16.9">M-M + SLR (RCP 4.5)</text>
<text x="374.2" y="485.0" font-size="16.9">M-M + SLR (dredged)</text>
<path d="M548.4 457.5H598.8" stroke="#3a53a4" stroke-width="1.2" fill="none"/><circle cx="573.6" cy="457.5" r="3.8" fill="#3a53a4"/>
<path d="M549.7 479.1H598.8" stroke="#3a53a4" stroke-width="2.9" stroke-dasharray="7.4 11.9" stroke-linecap="round" fill="none"/>
<text x="603.8" y="463.4" font-size="16.9">H-H + SLR (RCP 4.5)</text>
<text x="603.8" y="485.0" font-size="16.9">H-H + SLR (dredged)</text>
<path d="M774.4 457.5H824.0" stroke="#ed1c24" stroke-width="1.2" fill="none"/><rect x="795.6" y="453.9" width="7.2" height="7.2" fill="#ed1c24"/>
<path d="M775.7 479.1H824.0" stroke="#ed1c24" stroke-width="2.9" stroke-dasharray="7.4 11.9" stroke-linecap="round" fill="none"/>
<text x="828.6" y="463.4" font-size="16.9">CF + SLR (RCP 4.5)</text>
<text x="828.6" y="485.0" font-size="16.9">CF + SLR (dredged)</text>
<text x="2.4" y="420.2" font-size="29.5" font-weight="bold" fill="#111">B</text>
<path d="M61.6 819.1H1240.5V1110.7" fill="none" stroke="#8b8b8b" stroke-width="1.7"/>
<path d="M61.6 819.1V1110.7H1240.5" fill="none" stroke="#5c5c5c" stroke-width="1.3"/>
<path d="M86.2 1110.7v-12M86.2 819.1v12M209.0 1110.7v-12M209.0 819.1v12M331.8 1110.7v-12M331.8 819.1v12M454.6 1110.7v-12M454.6 819.1v12M577.4 1110.7v-12M577.4 819.1v12M700.2 1110.7v-12M700.2 819.1v12M823.0 1110.7v-12M823.0 819.1v12M945.8 1110.7v-12M945.8 819.1v12M1068.6 1110.7v-12M1068.6 819.1v12M1191.4 1110.7v-12M1191.4 819.1v12M61.6 1062.1h12M1240.5 1062.1h-12M61.6 1013.5h12M1240.5 1013.5h-12M61.6 964.9h12M1240.5 964.9h-12M61.6 916.3h12M1240.5 916.3h-12M61.6 867.7h12M1240.5 867.7h-12" stroke="#5e5e5e" stroke-width="1.05" fill="none"/>
<text x="86.2" y="1139.1" text-anchor="middle" font-size="20.2">1.75</text>
<text x="209.0" y="1139.1" text-anchor="middle" font-size="20.2">2</text>
<text x="331.8" y="1139.1" text-anchor="middle" font-size="20.2">2.25</text>
<text x="454.6" y="1139.1" text-anchor="middle" font-size="20.2">2.5</text>
<text x="577.4" y="1139.1" text-anchor="middle" font-size="20.2">2.75</text>
<text x="700.2" y="1139.1" text-anchor="middle" font-size="20.2">3</text>
<text x="823.0" y="1139.1" text-anchor="middle" font-size="20.2">3.25</text>
<text x="945.8" y="1139.1" text-anchor="middle" font-size="20.2">3.5</text>
<text x="1068.6" y="1139.1" text-anchor="middle" font-size="20.2">3.75</text>
<text x="1191.4" y="1139.1" text-anchor="middle" font-size="20.2">4</text>
<text x="53.8" y="1118.8" text-anchor="end" font-size="20.2">0</text>
<text x="53.8" y="1070.2" text-anchor="end" font-size="20.2">0.5</text>
<text x="53.8" y="1021.6" text-anchor="end" font-size="20.2">1</text>
<text x="53.8" y="973.0" text-anchor="end" font-size="20.2">1.5</text>
<text x="53.8" y="924.4" text-anchor="end" font-size="20.2">2</text>
<text x="53.8" y="875.8" text-anchor="end" font-size="20.2">2.5</text>
<text x="53.8" y="827.2" text-anchor="end" font-size="20.2">3</text>
<text x="651.0" y="1165.0" text-anchor="middle" font-size="20.2">Water Surface Elevation [m]</text>
<text transform="translate(16.9 964.9) rotate(-90)" text-anchor="middle" font-size="20.2">Density</text>
<path d="M298.5 819.1V1110.7" stroke="#aeaeae" stroke-width="1.6" fill="none"/>
<text transform="translate(320.8 835.6) rotate(-90)" text-anchor="end" font-size="19.8">Major flood stage</text>
<path d="M86.2 1109.7L100.9 1109.0L115.6 1107.3L130.4 1106.1L145.1 1105.5L159.8 1104.2L174.6 1099.9L189.3 1087.6L204.1 1058.9L218.8 1013.5L233.5 967.5L248.3 949.5L263.0 968.8L277.7 1009.1L292.5 1043.7L307.2 1062.4L321.9 1070.3L336.7 1073.9L351.4 1076.3L366.1 1077.7L380.9 1078.3L395.6 1078.8L410.4 1081.2L425.1 1083.1L439.8 1085.2L454.6 1087.7L469.3 1090.0L484.0 1091.5L498.8 1092.4L513.5 1092.4L528.2 1092.4L543.0 1092.4L557.7 1093.1L572.5 1094.3L587.2 1093.8L601.9 1093.1L616.7 1091.5L631.4 1089.5L646.1 1087.0L660.9 1083.4L675.6 1079.3L690.3 1078.1L705.1 1081.5L719.8 1085.8L734.6 1090.6L749.3 1094.7L764.0 1097.0L778.8 1098.5L793.5 1098.9L808.2 1098.9L823.0 1097.3L837.7 1096.6L852.4 1097.0L867.2 1097.8L881.9 1099.7L896.7 1101.3L911.4 1102.1L926.1 1102.1L940.9 1101.3L955.6 1099.7L970.3 1099.4L985.1 1099.4L999.8 1099.7L1014.5 1100.1L1029.3 1101.3L1044.0 1102.1L1058.8 1102.5L1073.5 1102.5L1088.2 1102.5L1103.0 1103.3L1117.7 1103.3L1132.4 1103.3L1147.2 1103.7L1161.9 1103.7L1176.6 1104.4L1191.4 1104.2" fill="none" stroke="#22b04b" stroke-width="1.8" stroke-linejoin="round"/>
<path d="M81.1 1109.7L91.3 1109.7M86.2 1104.6L86.2 1114.8M82.6 1106.1L89.8 1113.3M82.6 1113.3L89.8 1106.1" stroke="#22b04b" stroke-width="1.75" fill="none"/><circle cx="86.2" cy="1109.7" r="2.6" fill="#22b04b"/>
<path d="M95.8 1109.0L106.0 1109.0M100.9 1103.9L100.9 1114.1M97.3 1105.4L104.5 1112.7M97.3 1112.7L104.5 1105.4" stroke="#22b04b" stroke-width="1.75" fill="none"/><circle cx="100.9" cy="1109.0" r="2.6" fill="#22b04b"/>
<path d="M110.5 1107.3L120.7 1107.3M115.6 1102.2L115.6 1112.4M112.0 1103.7L119.2 1110.9M112.0 1110.9L119.2 1103.7" stroke="#22b04b" stroke-width="1.75" fill="none"/><circle cx="115.6" cy="1107.3" r="2.6" fill="#22b04b"/>
<path d="M125.3 1106.1L135.5 1106.1M130.4 1101.0L130.4 1111.2M126.8 1102.5L134.0 1109.7M126.8 1109.7L134.0 1102.5" stroke="#22b04b" stroke-width="1.75" fill="none"/><circle cx="130.4" cy="1106.1" r="2.6" fill="#22b04b"/>
<path d="M140.0 1105.5L150.2 1105.5M145.1 1100.4L145.1 1110.6M141.5 1101.8L148.7 1109.1M141.5 1109.1L148.7 1101.8" stroke="#22b04b" stroke-width="1.75" fill="none"/><circle cx="145.1" cy="1105.5" r="2.6" fill="#22b04b"/>
<path d="M154.7 1104.2L164.9 1104.2M159.8 1099.1L159.8 1109.3M156.2 1100.6L163.4 1107.8M156.2 1107.8L163.4 1100.6" stroke="#22b04b" stroke-width="1.75" fill="none"/><circle cx="159.8" cy="1104.2" r="2.6" fill="#22b04b"/>
<path d="M169.5 1099.9L179.7 1099.9M174.6 1094.8L174.6 1105.0M171.0 1096.3L178.2 1103.5M171.0 1103.5L178.2 1096.3" stroke="#22b04b" stroke-width="1.75" fill="none"/><circle cx="174.6" cy="1099.9" r="2.6" fill="#22b04b"/>
<path d="M184.2 1087.6L194.4 1087.6M189.3 1082.5L189.3 1092.7M185.7 1084.0L192.9 1091.2M185.7 1091.2L192.9 1084.0" stroke="#22b04b" stroke-width="1.75" fill="none"/><circle cx="189.3" cy="1087.6" r="2.6" fill="#22b04b"/>
<path d="M199.0 1058.9L209.2 1058.9M204.1 1053.8L204.1 1064.0M200.4 1055.3L207.7 1062.5M200.4 1062.5L207.7 1055.3" stroke="#22b04b" stroke-width="1.75" fill="none"/><circle cx="204.1" cy="1058.9" r="2.6" fill="#22b04b"/>
<path d="M213.7 1013.5L223.9 1013.5M218.8 1008.4L218.8 1018.6M215.2 1009.9L222.4 1017.1M215.2 1017.1L222.4 1009.9" stroke="#22b04b" stroke-width="1.75" fill="none"/><circle cx="218.8" cy="1013.5" r="2.6" fill="#22b04b"/>
<path d="M228.4 967.5L238.6 967.5M233.5 962.4L233.5 972.6M229.9 963.9L237.1 971.1M229.9 971.1L237.1 963.9" stroke="#22b04b" stroke-width="1.75" fill="none"/><circle cx="233.5" cy="967.5" r="2.6" fill="#22b04b"/>
<path d="M243.2 949.5L253.4 949.5M248.3 944.4L248.3 954.6M244.7 945.9L251.9 953.1M244.7 953.1L251.9 945.9" stroke="#22b04b" stroke-width="1.75" fill="none"/><circle cx="248.3" cy="949.5" r="2.6" fill="#22b04b"/>
<path d="M257.9 968.8L268.1 968.8M263.0 963.7L263.0 973.9M259.4 965.2L266.6 972.4M259.4 972.4L266.6 965.2" stroke="#22b04b" stroke-width="1.75" fill="none"/><circle cx="263.0" cy="968.8" r="2.6" fill="#22b04b"/>
<path d="M272.6 1009.1L282.8 1009.1M277.7 1004.0L277.7 1014.2M274.1 1005.5L281.3 1012.7M274.1 1012.7L281.3 1005.5" stroke="#22b04b" stroke-width="1.75" fill="none"/><circle cx="277.7" cy="1009.1" r="2.6" fill="#22b04b"/>
<path d="M287.4 1043.7L297.6 1043.7M292.5 1038.6L292.5 1048.8M288.9 1040.1L296.1 1047.3M288.9 1047.3L296.1 1040.1" stroke="#22b04b" stroke-width="1.75" fill="none"/><circle cx="292.5" cy="1043.7" r="2.6" fill="#22b04b"/>
<path d="M302.1 1062.4L312.3 1062.4M307.2 1057.3L307.2 1067.5M303.6 1058.8L310.8 1066.0M303.6 1066.0L310.8 1058.8" stroke="#22b04b" stroke-width="1.75" fill="none"/><circle cx="307.2" cy="1062.4" r="2.6" fill="#22b04b"/>
<path d="M316.8 1070.3L327.0 1070.3M321.9 1065.2L321.9 1075.4M318.3 1066.7L325.5 1073.9M318.3 1073.9L325.5 1066.7" stroke="#22b04b" stroke-width="1.75" fill="none"/><circle cx="321.9" cy="1070.3" r="2.6" fill="#22b04b"/>
<path d="M331.6 1073.9L341.8 1073.9M336.7 1068.8L336.7 1079.0M333.1 1070.3L340.3 1077.5M333.1 1077.5L340.3 1070.3" stroke="#22b04b" stroke-width="1.75" fill="none"/><circle cx="336.7" cy="1073.9" r="2.6" fill="#22b04b"/>
<path d="M346.3 1076.3L356.5 1076.3M351.4 1071.2L351.4 1081.4M347.8 1072.7L355.0 1079.9M347.8 1079.9L355.0 1072.7" stroke="#22b04b" stroke-width="1.75" fill="none"/><circle cx="351.4" cy="1076.3" r="2.6" fill="#22b04b"/>
<path d="M361.0 1077.7L371.2 1077.7M366.1 1072.6L366.1 1082.8M362.5 1074.0L369.8 1081.3M362.5 1081.3L369.8 1074.0" stroke="#22b04b" stroke-width="1.75" fill="none"/><circle cx="366.1" cy="1077.7" r="2.6" fill="#22b04b"/>
<path d="M375.8 1078.3L386.0 1078.3M380.9 1073.2L380.9 1083.4M377.3 1074.7L384.5 1081.9M377.3 1081.9L384.5 1074.7" stroke="#22b04b" stroke-width="1.75" fill="none"/><circle cx="380.9" cy="1078.3" r="2.6" fill="#22b04b"/>
<path d="M390.5 1078.8L400.7 1078.8M395.6 1073.7L395.6 1083.9M392.0 1075.2L399.2 1082.4M392.0 1082.4L399.2 1075.2" stroke="#22b04b" stroke-width="1.75" fill="none"/><circle cx="395.6" cy="1078.8" r="2.6" fill="#22b04b"/>
<path d="M405.3 1081.2L415.5 1081.2M410.4 1076.1L410.4 1086.3M406.8 1077.5L414.0 1084.8M406.8 1084.8L414.0 1077.5" stroke="#22b04b" stroke-width="1.75" fill="none"/><circle cx="410.4" cy="1081.2" r="2.6" fill="#22b04b"/>
<path d="M420.0 1083.1L430.2 1083.1M425.1 1078.0L425.1 1088.2M421.5 1079.5L428.7 1086.7M421.5 1086.7L428.7 1079.5" stroke="#22b04b" stroke-width="1.75" fill="none"/><circle cx="425.1" cy="1083.1" r="2.6" fill="#22b04b"/>
<path d="M434.7 1085.2L444.9 1085.2M439.8 1080.1L439.8 1090.3M436.2 1081.6L443.4 1088.8M436.2 1088.8L443.4 1081.6" stroke="#22b04b" stroke-width="1.75" fill="none"/><circle cx="439.8" cy="1085.2" r="2.6" fill="#22b04b"/>
<path d="M449.5 1087.7L459.7 1087.7M454.6 1082.6L454.6 1092.8M451.0 1084.1L458.2 1091.3M451.0 1091.3L458.2 1084.1" stroke="#22b04b" stroke-width="1.75" fill="none"/><circle cx="454.6" cy="1087.7" r="2.6" fill="#22b04b"/>
<path d="M464.2 1090.0L474.4 1090.0M469.3 1084.9L469.3 1095.1M465.7 1086.4L472.9 1093.6M465.7 1093.6L472.9 1086.4" stroke="#22b04b" stroke-width="1.75" fill="none"/><circle cx="469.3" cy="1090.0" r="2.6" fill="#22b04b"/>
<path d="M478.9 1091.5L489.1 1091.5M484.0 1086.4L484.0 1096.6M480.4 1087.8L487.6 1095.1M480.4 1095.1L487.6 1087.8" stroke="#22b04b" stroke-width="1.75" fill="none"/><circle cx="484.0" cy="1091.5" r="2.6" fill="#22b04b"/>
<path d="M493.7 1092.4L503.9 1092.4M498.8 1087.3L498.8 1097.5M495.2 1088.8L502.4 1096.0M495.2 1096.0L502.4 1088.8" stroke="#22b04b" stroke-width="1.75" fill="none"/><circle cx="498.8" cy="1092.4" r="2.6" fill="#22b04b"/>
<path d="M508.4 1092.4L518.6 1092.4M513.5 1087.3L513.5 1097.5M509.9 1088.8L517.1 1096.0M509.9 1096.0L517.1 1088.8" stroke="#22b04b" stroke-width="1.75" fill="none"/><circle cx="513.5" cy="1092.4" r="2.6" fill="#22b04b"/>
<path d="M523.1 1092.4L533.3 1092.4M528.2 1087.3L528.2 1097.5M524.6 1088.8L531.9 1096.0M524.6 1096.0L531.9 1088.8" stroke="#22b04b" stroke-width="1.75" fill="none"/><circle cx="528.2" cy="1092.4" r="2.6" fill="#22b04b"/>
<path d="M537.9 1092.4L548.1 1092.4M543.0 1087.3L543.0 1097.5M539.4 1088.8L546.6 1096.0M539.4 1096.0L546.6 1088.8" stroke="#22b04b" stroke-width="1.75" fill="none"/><circle cx="543.0" cy="1092.4" r="2.6" fill="#22b04b"/>
<path d="M552.6 1093.1L562.8 1093.1M557.7 1088.0L557.7 1098.2M554.1 1089.5L561.3 1096.7M554.1 1096.7L561.3 1089.5" stroke="#22b04b" stroke-width="1.75" fill="none"/><circle cx="557.7" cy="1093.1" r="2.6" fill="#22b04b"/>
<path d="M567.4 1094.3L577.6 1094.3M572.5 1089.2L572.5 1099.4M568.9 1090.7L576.1 1097.9M568.9 1097.9L576.1 1090.7" stroke="#22b04b" stroke-width="1.75" fill="none"/><circle cx="572.5" cy="1094.3" r="2.6" fill="#22b04b"/>
<path d="M582.1 1093.8L592.3 1093.8M587.2 1088.7L587.2 1098.9M583.6 1090.2L590.8 1097.4M583.6 1097.4L590.8 1090.2" stroke="#22b04b" stroke-width="1.75" fill="none"/><circle cx="587.2" cy="1093.8" r="2.6" fill="#22b04b"/>
<path d="M596.8 1093.1L607.0 1093.1M601.9 1088.0L601.9 1098.2M598.3 1089.5L605.5 1096.7M598.3 1096.7L605.5 1089.5" stroke="#22b04b" stroke-width="1.75" fill="none"/><circle cx="601.9" cy="1093.1" r="2.6" fill="#22b04b"/>
<path d="M611.6 1091.5L621.8 1091.5M616.7 1086.4L616.7 1096.6M613.1 1087.8L620.3 1095.1M613.1 1095.1L620.3 1087.8" stroke="#22b04b" stroke-width="1.75" fill="none"/><circle cx="616.7" cy="1091.5" r="2.6" fill="#22b04b"/>
<path d="M626.3 1089.5L636.5 1089.5M631.4 1084.4L631.4 1094.6M627.8 1085.9L635.0 1093.1M627.8 1093.1L635.0 1085.9" stroke="#22b04b" stroke-width="1.75" fill="none"/><circle cx="631.4" cy="1089.5" r="2.6" fill="#22b04b"/>
<path d="M641.0 1087.0L651.2 1087.0M646.1 1081.9L646.1 1092.1M642.5 1083.4L649.7 1090.6M642.5 1090.6L649.7 1083.4" stroke="#22b04b" stroke-width="1.75" fill="none"/><circle cx="646.1" cy="1087.0" r="2.6" fill="#22b04b"/>
<path d="M655.8 1083.4L666.0 1083.4M660.9 1078.3L660.9 1088.5M657.3 1079.8L664.5 1087.0M657.3 1087.0L664.5 1079.8" stroke="#22b04b" stroke-width="1.75" fill="none"/><circle cx="660.9" cy="1083.4" r="2.6" fill="#22b04b"/>
<path d="M670.5 1079.3L680.7 1079.3M675.6 1074.2L675.6 1084.4M672.0 1075.7L679.2 1082.9M672.0 1082.9L679.2 1075.7" stroke="#22b04b" stroke-width="1.75" fill="none"/><circle cx="675.6" cy="1079.3" r="2.6" fill="#22b04b"/>
<path d="M685.2 1078.1L695.4 1078.1M690.3 1073.0L690.3 1083.2M686.7 1074.5L694.0 1081.7M686.7 1081.7L694.0 1074.5" stroke="#22b04b" stroke-width="1.75" fill="none"/><circle cx="690.3" cy="1078.1" r="2.6" fill="#22b04b"/>
<path d="M700.0 1081.5L710.2 1081.5M705.1 1076.4L705.1 1086.6M701.5 1077.9L708.7 1085.1M701.5 1085.1L708.7 1077.9" stroke="#22b04b" stroke-width="1.75" fill="none"/><circle cx="705.1" cy="1081.5" r="2.6" fill="#22b04b"/>
<path d="M714.7 1085.8L724.9 1085.8M719.8 1080.7L719.8 1090.9M716.2 1082.2L723.4 1089.4M716.2 1089.4L723.4 1082.2" stroke="#22b04b" stroke-width="1.75" fill="none"/><circle cx="719.8" cy="1085.8" r="2.6" fill="#22b04b"/>
<path d="M729.5 1090.6L739.7 1090.6M734.6 1085.5L734.6 1095.7M730.9 1087.0L738.2 1094.2M730.9 1094.2L738.2 1087.0" stroke="#22b04b" stroke-width="1.75" fill="none"/><circle cx="734.6" cy="1090.6" r="2.6" fill="#22b04b"/>
<path d="M744.2 1094.7L754.4 1094.7M749.3 1089.6L749.3 1099.8M745.7 1091.1L752.9 1098.3M745.7 1098.3L752.9 1091.1" stroke="#22b04b" stroke-width="1.75" fill="none"/><circle cx="749.3" cy="1094.7" r="2.6" fill="#22b04b"/>
<path d="M758.9 1097.0L769.1 1097.0M764.0 1091.9L764.0 1102.1M760.4 1093.4L767.6 1100.6M760.4 1100.6L767.6 1093.4" stroke="#22b04b" stroke-width="1.75" fill="none"/><circle cx="764.0" cy="1097.0" r="2.6" fill="#22b04b"/>
<path d="M773.7 1098.5L783.9 1098.5M778.8 1093.5L778.8 1103.6M775.2 1094.9L782.4 1102.2M775.2 1102.2L782.4 1094.9" stroke="#22b04b" stroke-width="1.75" fill="none"/><circle cx="778.8" cy="1098.5" r="2.6" fill="#22b04b"/>
<path d="M788.4 1098.9L798.6 1098.9M793.5 1093.8L793.5 1104.0M789.9 1095.3L797.1 1102.5M789.9 1102.5L797.1 1095.3" stroke="#22b04b" stroke-width="1.75" fill="none"/><circle cx="793.5" cy="1098.9" r="2.6" fill="#22b04b"/>
<path d="M803.1 1098.9L813.3 1098.9M808.2 1093.8L808.2 1104.0M804.6 1095.3L811.8 1102.5M804.6 1102.5L811.8 1095.3" stroke="#22b04b" stroke-width="1.75" fill="none"/><circle cx="808.2" cy="1098.9" r="2.6" fill="#22b04b"/>
<path d="M817.9 1097.3L828.1 1097.3M823.0 1092.2L823.0 1102.4M819.4 1093.7L826.6 1100.9M819.4 1100.9L826.6 1093.7" stroke="#22b04b" stroke-width="1.75" fill="none"/><circle cx="823.0" cy="1097.3" r="2.6" fill="#22b04b"/>
<path d="M832.6 1096.6L842.8 1096.6M837.7 1091.5L837.7 1101.7M834.1 1093.0L841.3 1100.2M834.1 1100.2L841.3 1093.0" stroke="#22b04b" stroke-width="1.75" fill="none"/><circle cx="837.7" cy="1096.6" r="2.6" fill="#22b04b"/>
<path d="M847.3 1097.0L857.5 1097.0M852.4 1091.9L852.4 1102.1M848.8 1093.4L856.1 1100.6M848.8 1100.6L856.1 1093.4" stroke="#22b04b" stroke-width="1.75" fill="none"/><circle cx="852.4" cy="1097.0" r="2.6" fill="#22b04b"/>
<path d="M862.1 1097.8L872.3 1097.8M867.2 1092.7L867.2 1102.9M863.6 1094.2L870.8 1101.4M863.6 1101.4L870.8 1094.2" stroke="#22b04b" stroke-width="1.75" fill="none"/><circle cx="867.2" cy="1097.8" r="2.6" fill="#22b04b"/>
<path d="M876.8 1099.7L887.0 1099.7M881.9 1094.6L881.9 1104.8M878.3 1096.1L885.5 1103.3M878.3 1103.3L885.5 1096.1" stroke="#22b04b" stroke-width="1.75" fill="none"/><circle cx="881.9" cy="1099.7" r="2.6" fill="#22b04b"/>
<path d="M891.6 1101.3L901.8 1101.3M896.7 1096.2L896.7 1106.4M893.0 1097.7L900.3 1104.9M893.0 1104.9L900.3 1097.7" stroke="#22b04b" stroke-width="1.75" fill="none"/><circle cx="896.7" cy="1101.3" r="2.6" fill="#22b04b"/>
<path d="M906.3 1102.1L916.5 1102.1M911.4 1097.0L911.4 1107.2M907.8 1098.5L915.0 1105.8M907.8 1105.8L915.0 1098.5" stroke="#22b04b" stroke-width="1.75" fill="none"/><circle cx="911.4" cy="1102.1" r="2.6" fill="#22b04b"/>
<path d="M921.0 1102.1L931.2 1102.1M926.1 1097.0L926.1 1107.2M922.5 1098.5L929.7 1105.8M922.5 1105.8L929.7 1098.5" stroke="#22b04b" stroke-width="1.75" fill="none"/><circle cx="926.1" cy="1102.1" r="2.6" fill="#22b04b"/>
<path d="M935.8 1101.3L946.0 1101.3M940.9 1096.2L940.9 1106.4M937.3 1097.7L944.5 1104.9M937.3 1104.9L944.5 1097.7" stroke="#22b04b" stroke-width="1.75" fill="none"/><circle cx="940.9" cy="1101.3" r="2.6" fill="#22b04b"/>
<path d="M950.5 1099.7L960.7 1099.7M955.6 1094.6L955.6 1104.8M952.0 1096.1L959.2 1103.3M952.0 1103.3L959.2 1096.1" stroke="#22b04b" stroke-width="1.75" fill="none"/><circle cx="955.6" cy="1099.7" r="2.6" fill="#22b04b"/>
<path d="M965.2 1099.4L975.4 1099.4M970.3 1094.3L970.3 1104.5M966.7 1095.8L973.9 1103.0M966.7 1103.0L973.9 1095.8" stroke="#22b04b" stroke-width="1.75" fill="none"/><circle cx="970.3" cy="1099.4" r="2.6" fill="#22b04b"/>
<path d="M980.0 1099.4L990.2 1099.4M985.1 1094.3L985.1 1104.5M981.5 1095.8L988.7 1103.0M981.5 1103.0L988.7 1095.8" stroke="#22b04b" stroke-width="1.75" fill="none"/><circle cx="985.1" cy="1099.4" r="2.6" fill="#22b04b"/>
<path d="M994.7 1099.7L1004.9 1099.7M999.8 1094.6L999.8 1104.8M996.2 1096.1L1003.4 1103.3M996.2 1103.3L1003.4 1096.1" stroke="#22b04b" stroke-width="1.75" fill="none"/><circle cx="999.8" cy="1099.7" r="2.6" fill="#22b04b"/>
<path d="M1009.4 1100.1L1019.6 1100.1M1014.5 1095.0L1014.5 1105.2M1010.9 1096.5L1018.2 1103.7M1010.9 1103.7L1018.2 1096.5" stroke="#22b04b" stroke-width="1.75" fill="none"/><circle cx="1014.5" cy="1100.1" r="2.6" fill="#22b04b"/>
<path d="M1024.2 1101.3L1034.4 1101.3M1029.3 1096.2L1029.3 1106.4M1025.7 1097.7L1032.9 1104.9M1025.7 1104.9L1032.9 1097.7" stroke="#22b04b" stroke-width="1.75" fill="none"/><circle cx="1029.3" cy="1101.3" r="2.6" fill="#22b04b"/>
<path d="M1038.9 1102.1L1049.1 1102.1M1044.0 1097.0L1044.0 1107.2M1040.4 1098.5L1047.6 1105.8M1040.4 1105.8L1047.6 1098.5" stroke="#22b04b" stroke-width="1.75" fill="none"/><circle cx="1044.0" cy="1102.1" r="2.6" fill="#22b04b"/>
<path d="M1053.7 1102.5L1063.9 1102.5M1058.8 1097.4L1058.8 1107.6M1055.1 1098.9L1062.4 1106.1M1055.1 1106.1L1062.4 1098.9" stroke="#22b04b" stroke-width="1.75" fill="none"/><circle cx="1058.8" cy="1102.5" r="2.6" fill="#22b04b"/>
<path d="M1068.4 1102.5L1078.6 1102.5M1073.5 1097.4L1073.5 1107.6M1069.9 1098.9L1077.1 1106.1M1069.9 1106.1L1077.1 1098.9" stroke="#22b04b" stroke-width="1.75" fill="none"/><circle cx="1073.5" cy="1102.5" r="2.6" fill="#22b04b"/>
<path d="M1083.1 1102.5L1093.3 1102.5M1088.2 1097.4L1088.2 1107.6M1084.6 1098.9L1091.8 1106.1M1084.6 1106.1L1091.8 1098.9" stroke="#22b04b" stroke-width="1.75" fill="none"/><circle cx="1088.2" cy="1102.5" r="2.6" fill="#22b04b"/>
<path d="M1097.9 1103.3L1108.1 1103.3M1103.0 1098.2L1103.0 1108.4M1099.4 1099.7L1106.6 1106.9M1099.4 1106.9L1106.6 1099.7" stroke="#22b04b" stroke-width="1.75" fill="none"/><circle cx="1103.0" cy="1103.3" r="2.6" fill="#22b04b"/>
<path d="M1112.6 1103.3L1122.8 1103.3M1117.7 1098.2L1117.7 1108.4M1114.1 1099.7L1121.3 1106.9M1114.1 1106.9L1121.3 1099.7" stroke="#22b04b" stroke-width="1.75" fill="none"/><circle cx="1117.7" cy="1103.3" r="2.6" fill="#22b04b"/>
<path d="M1127.3 1103.3L1137.5 1103.3M1132.4 1098.2L1132.4 1108.4M1128.8 1099.7L1136.0 1106.9M1128.8 1106.9L1136.0 1099.7" stroke="#22b04b" stroke-width="1.75" fill="none"/><circle cx="1132.4" cy="1103.3" r="2.6" fill="#22b04b"/>
<path d="M1142.1 1103.7L1152.3 1103.7M1147.2 1098.6L1147.2 1108.8M1143.6 1100.1L1150.8 1107.3M1143.6 1107.3L1150.8 1100.1" stroke="#22b04b" stroke-width="1.75" fill="none"/><circle cx="1147.2" cy="1103.7" r="2.6" fill="#22b04b"/>
<path d="M1156.8 1103.7L1167.0 1103.7M1161.9 1098.6L1161.9 1108.8M1158.3 1100.1L1165.5 1107.3M1158.3 1107.3L1165.5 1100.1" stroke="#22b04b" stroke-width="1.75" fill="none"/><circle cx="1161.9" cy="1103.7" r="2.6" fill="#22b04b"/>
<path d="M1171.5 1104.4L1181.7 1104.4M1176.6 1099.3L1176.6 1109.5M1173.0 1100.8L1180.2 1108.0M1173.0 1108.0L1180.2 1100.8" stroke="#22b04b" stroke-width="1.75" fill="none"/><circle cx="1176.6" cy="1104.4" r="2.6" fill="#22b04b"/>
<path d="M1186.3 1104.2L1196.5 1104.2M1191.4 1099.1L1191.4 1109.3M1187.8 1100.6L1195.0 1107.8M1187.8 1107.8L1195.0 1100.6" stroke="#22b04b" stroke-width="1.75" fill="none"/><circle cx="1191.4" cy="1104.2" r="2.6" fill="#22b04b"/>
<path d="M87.6 1109.7L90.1 1109.6L92.5 1109.5L95.0 1109.4L97.5 1109.3L99.9 1109.2L102.4 1109.0L104.8 1108.8L107.3 1108.5L109.7 1108.2L112.2 1107.9L114.7 1107.6L117.1 1107.3L119.6 1107.1L122.0 1106.9L124.5 1106.7L126.9 1106.5L129.4 1106.3L131.8 1106.1L134.3 1106.0L136.8 1105.9L139.2 1105.8L141.7 1105.7L144.1 1105.6L146.6 1105.5L149.0 1105.2L151.5 1105.0L153.9 1104.8L156.4 1104.6L158.9 1104.4L161.3 1104.2L163.8 1103.5L166.2 1102.8L168.7 1102.0L171.1 1101.3L173.6 1100.6L176.1 1099.9L178.5 1097.9L181.0 1095.8L183.4 1093.7L185.9 1091.7L188.3 1089.6L190.8 1087.6L193.2 1082.8L195.7 1078.0L198.2 1073.2L200.6 1068.5L203.1 1063.7L205.5 1058.9L208.0 1051.3L210.4 1043.8L212.9 1036.2L215.3 1028.6L217.8 1021.1L220.3 1013.5L222.7 1005.8L225.2 998.2L227.6 990.5L230.1 982.8L232.5 975.2L235.0 967.5L237.5 964.5L239.9 961.5L242.4 958.5L244.8 955.5L247.3 952.5L249.7 949.5L252.2 952.8L254.6 956.0L257.1 959.2L259.6 962.4L262.0 965.6L264.5 968.8L266.9 975.5L269.4 982.2L271.8 989.0L274.3 995.7L276.7 1002.4L279.2 1009.1L281.7 1014.9L284.1 1020.7L286.6 1026.4L289.0 1032.2L291.5 1038.0L293.9 1043.7L296.4 1046.8L298.9 1050.0L301.3 1053.1L303.8 1056.2L306.2 1059.3L308.7 1062.4L311.1 1063.7L313.6 1065.0L316.0 1066.3L318.5 1067.6L321.0 1069.0L323.4 1070.3L325.9 1070.9L328.3 1071.5L330.8 1072.1L333.2 1072.7L335.7 1073.3L338.2 1073.9L340.6 1074.3L343.1 1074.7L345.5 1075.1L348.0 1075.5L350.4 1075.9L352.9 1076.3L355.3 1076.5L357.8 1076.7L360.3 1077.0L362.7 1077.2L365.2 1077.4L367.6 1077.7L370.1 1077.8L372.5 1077.9L375.0 1078.0L377.4 1078.1L379.9 1078.2L382.4 1078.3L384.8 1078.4L387.3 1078.5L389.7 1078.6L392.2 1078.7L394.6 1078.7L397.1 1078.8L399.6 1079.2L402.0 1079.6L404.5 1080.0L405.4 1080.4L407.9 1080.8L410.4 1081.2L412.8 1081.5L415.3 1081.8L417.7 1082.1L420.2 1082.4L422.6 1082.8L425.1 1083.1L427.6 1083.5L430.0 1083.8L432.5 1084.2L434.9 1084.5L437.4 1084.9L439.8 1085.2L442.3 1085.6L444.7 1086.0L447.2 1086.4L449.7 1086.9L452.1 1087.3L454.6 1087.7L457.0 1088.1L459.5 1088.4L461.9 1088.8L464.4 1089.2L466.8 1089.6L469.3 1090.0L471.8 1090.2L474.2 1090.5L476.7 1090.7L479.1 1091.0L481.6 1091.2L484.0 1091.5L486.5 1091.6L489.0 1091.8L491.4 1091.9L493.9 1092.1L496.3 1092.3L498.8 1092.4L501.2 1092.4L503.7 1092.4L506.1 1092.4L508.6 1092.4L511.1 1092.4L513.5 1092.4L516.0 1092.4L518.4 1092.4L520.9 1092.4L523.3 1092.4L525.8 1092.4L528.2 1092.4L530.7 1092.4L533.2 1092.4L535.6 1092.4L538.1 1092.4L540.5 1092.4L543.0 1092.4L545.4 1092.5L547.9 1092.7L550.4 1092.8L552.8 1092.9L555.3 1093.0L557.7 1093.1L560.2 1093.3L562.6 1093.5L565.1 1093.7L567.5 1093.9L570.0 1094.1L572.5 1094.3L574.9 1094.2L577.4 1094.1L579.8 1094.0L582.3 1093.9L584.7 1093.9L587.2 1093.8L589.6 1093.7L592.1 1093.6L594.6 1093.4L597.0 1093.3L599.5 1093.2L601.9 1093.1L604.4 1092.8L606.8 1092.6L609.3 1092.3L611.8 1092.0L614.2 1091.7L616.7 1091.5L619.1 1091.1L621.6 1090.8L624.0 1090.5L626.5 1090.2L628.9 1089.8L631.4 1089.5L633.9 1089.1L636.3 1088.7L638.8 1088.2L641.2 1087.8L643.7 1087.4L646.1 1087.0L648.6 1086.4L651.1 1085.8L653.5 1085.2L656.0 1084.6L658.4 1084.0L660.9 1083.4L663.3 1082.7L665.8 1082.0L668.2 1081.3L670.7 1080.7L673.2 1080.0L675.6 1079.3L678.1 1079.1L680.5 1078.9L683.0 1078.7L685.4 1078.5L687.9 1078.3L690.3 1078.1L692.8 1078.7L695.3 1079.3L697.7 1079.8L700.2 1080.4L702.6 1081.0L705.1 1081.5L707.5 1082.3L710.0 1083.0L712.5 1083.7L714.9 1084.4L717.4 1085.1L719.8 1085.8L722.3 1086.6L724.7 1087.4L727.2 1088.2L729.6 1089.0L732.1 1089.8L734.6 1090.6L737.0 1091.3L739.5 1091.9L741.9 1092.6L744.4 1093.3L746.8 1094.0L749.3 1094.7L751.7 1095.1L754.2 1095.4L756.7 1095.8L759.1 1096.2L761.6 1096.6L764.0 1097.0L766.5 1097.3L768.9 1097.5L771.4 1097.8L773.9 1098.0L776.3 1098.3L778.8 1098.5L781.2 1098.6L783.7 1098.7L786.1 1098.7L788.6 1098.8L791.0 1098.9L793.5 1098.9L796.0 1098.9L798.4 1098.9L800.9 1098.9L803.3 1098.9L805.8 1098.9L808.2 1098.9L810.7 1098.7L813.1 1098.4L815.6 1098.1L818.1 1097.8L820.5 1097.6L823.0 1097.3L825.4 1097.2L827.9 1097.1L830.3 1096.9L832.8 1096.8L835.3 1096.7L837.7 1096.6L840.2 1096.7L842.6 1096.7L845.1 1096.8L847.5 1096.9L850.0 1096.9L852.4 1097.0L854.9 1097.1L857.4 1097.3L859.8 1097.4L862.3 1097.5L864.7 1097.6L867.2 1097.8L869.6 1098.1L872.1 1098.4L874.5 1098.7L877.0 1099.1L879.5 1099.4L881.9 1099.7L884.4 1100.0L886.8 1100.2L889.3 1100.5L891.7 1100.8L894.2 1101.0L896.7 1101.3L899.1 1101.4L901.6 1101.6L904.0 1101.7L906.5 1101.9L908.9 1102.0L911.4 1102.1L913.8 1102.1L916.3 1102.1L918.8 1102.1L921.2 1102.1L923.7 1102.1L926.1 1102.1L928.6 1102.0L931.0 1101.9L933.5 1101.7L936.0 1101.6L938.4 1101.4L940.9 1101.3L943.3 1101.0L945.8 1100.8L948.2 1100.5L950.7 1100.2L953.1 1100.0L955.6 1099.7L958.1 1099.7L960.5 1099.6L963.0 1099.6L965.4 1099.5L967.9 1099.5L970.3 1099.4L972.8 1099.4L975.2 1099.4L977.7 1099.4L980.2 1099.4L982.6 1099.4L985.1 1099.4L987.5 1099.5L990.0 1099.5L992.4 1099.6L994.9 1099.6L997.4 1099.7L999.8 1099.7L1002.3 1099.8L1004.7 1099.8L1007.2 1099.9L1009.6 1100.0L1012.1 1100.0L1014.5 1100.1L1017.0 1100.3L1019.5 1100.5L1021.9 1100.7L1024.4 1100.9L1026.8 1101.1L1029.3 1101.3L1031.7 1101.4L1034.2 1101.6L1036.6 1101.7L1039.1 1101.9L1041.6 1102.0L1044.0 1102.1L1046.5 1102.2L1048.9 1102.3L1051.4 1102.3L1053.8 1102.4L1056.3 1102.5L1058.8 1102.5L1061.2 1102.5L1063.7 1102.5L1066.1 1102.5L1068.6 1102.5L1071.0 1102.5L1073.5 1102.5L1075.9 1102.5L1078.4 1102.5L1080.9 1102.5L1083.3 1102.5L1085.8 1102.5L1088.2 1102.5L1090.7 1102.7L1093.1 1102.8L1095.6 1102.9L1098.0 1103.1L1100.5 1103.2L1103.0 1103.3L1105.4 1103.3L1107.9 1103.3L1110.3 1103.3L1112.8 1103.3L1115.2 1103.3L1117.7 1103.3L1120.2 1103.3L1122.6 1103.3L1125.1 1103.3L1127.5 1103.3L1130.0 1103.3L1132.4 1103.3L1134.9 1103.4L1137.3 1103.4L1139.8 1103.5L1142.3 1103.6L1144.7 1103.6L1147.2 1103.7L1149.6 1103.7L1152.1 1103.7L1154.5 1103.7L1157.0 1103.7L1159.5 1103.7L1161.9 1103.7L1164.4 1103.8L1166.8 1103.9L1169.3 1104.0L1171.7 1104.2L1174.2 1104.3L1176.6 1104.4L1179.1 1104.3L1181.6 1104.3L1184.0 1104.3L1186.5 1104.3L1188.9 1104.2L1191.4 1104.2" fill="none" stroke="#22b04b" stroke-width="2.9" stroke-linejoin="round" stroke-dasharray="7.8 11.4" stroke-linecap="round"/>
<path d="M209.0 1109.5L223.7 1109.5L238.4 1109.7L253.2 1109.7L267.9 1109.5L282.6 1107.1L297.4 1099.9L312.1 1084.0L326.9 1054.0L341.6 1015.4L356.3 984.5L371.1 982.0L385.8 1001.8L400.5 1025.0L415.3 1040.6L430.0 1049.4L444.7 1056.6L459.5 1063.3L474.2 1068.7L489.0 1073.6L503.7 1078.3L518.4 1083.5L533.2 1086.4L547.9 1088.3L562.6 1088.8L577.4 1088.8L592.1 1088.8L606.8 1088.3L621.6 1087.4L636.3 1085.0L651.1 1081.8L665.8 1077.5L680.5 1074.1L695.3 1071.8L710.0 1075.2L724.7 1081.0L739.5 1087.5L754.2 1090.9L768.9 1093.2L783.7 1094.6L798.4 1095.1L813.1 1093.9L827.9 1092.2L842.6 1090.4L857.4 1089.9L872.1 1090.4L886.8 1091.6L901.6 1095.0L916.3 1096.8L931.0 1097.0L945.8 1096.1L960.5 1094.7L975.2 1094.7L990.0 1095.4L1004.7 1096.1L1019.5 1096.6L1034.2 1097.3L1048.9 1098.3L1063.7 1098.5L1078.4 1098.3L1093.1 1097.8L1107.9 1098.3L1122.6 1098.9L1137.3 1100.6L1152.1 1102.1L1166.8 1103.0L1181.6 1103.7" fill="none" stroke="#3a53a4" stroke-width="1.8" stroke-linejoin="round"/>
<circle cx="209.0" cy="1109.5" r="4.25" fill="#3a53a4"/>
<circle cx="223.7" cy="1109.5" r="4.25" fill="#3a53a4"/>
<circle cx="238.4" cy="1109.7" r="4.25" fill="#3a53a4"/>
<circle cx="253.2" cy="1109.7" r="4.25" fill="#3a53a4"/>
<circle cx="267.9" cy="1109.5" r="4.25" fill="#3a53a4"/>
<circle cx="282.6" cy="1107.1" r="4.25" fill="#3a53a4"/>
<circle cx="297.4" cy="1099.9" r="4.25" fill="#3a53a4"/>
<circle cx="312.1" cy="1084.0" r="4.25" fill="#3a53a4"/>
<circle cx="326.9" cy="1054.0" r="4.25" fill="#3a53a4"/>
<circle cx="341.6" cy="1015.4" r="4.25" fill="#3a53a4"/>
<circle cx="356.3" cy="984.5" r="4.25" fill="#3a53a4"/>
<circle cx="371.1" cy="982.0" r="4.25" fill="#3a53a4"/>
<circle cx="385.8" cy="1001.8" r="4.25" fill="#3a53a4"/>
<circle cx="400.5" cy="1025.0" r="4.25" fill="#3a53a4"/>
<circle cx="415.3" cy="1040.6" r="4.25" fill="#3a53a4"/>
<circle cx="430.0" cy="1049.4" r="4.25" fill="#3a53a4"/>
<circle cx="444.7" cy="1056.6" r="4.25" fill="#3a53a4"/>
<circle cx="459.5" cy="1063.3" r="4.25" fill="#3a53a4"/>
<circle cx="474.2" cy="1068.7" r="4.25" fill="#3a53a4"/>
<circle cx="489.0" cy="1073.6" r="4.25" fill="#3a53a4"/>
<circle cx="503.7" cy="1078.3" r="4.25" fill="#3a53a4"/>
<circle cx="518.4" cy="1083.5" r="4.25" fill="#3a53a4"/>
<circle cx="533.2" cy="1086.4" r="4.25" fill="#3a53a4"/>
<circle cx="547.9" cy="1088.3" r="4.25" fill="#3a53a4"/>
<circle cx="562.6" cy="1088.8" r="4.25" fill="#3a53a4"/>
<circle cx="577.4" cy="1088.8" r="4.25" fill="#3a53a4"/>
<circle cx="592.1" cy="1088.8" r="4.25" fill="#3a53a4"/>
<circle cx="606.8" cy="1088.3" r="4.25" fill="#3a53a4"/>
<circle cx="621.6" cy="1087.4" r="4.25" fill="#3a53a4"/>
<circle cx="636.3" cy="1085.0" r="4.25" fill="#3a53a4"/>
<circle cx="651.1" cy="1081.8" r="4.25" fill="#3a53a4"/>
<circle cx="665.8" cy="1077.5" r="4.25" fill="#3a53a4"/>
<circle cx="680.5" cy="1074.1" r="4.25" fill="#3a53a4"/>
<circle cx="695.3" cy="1071.8" r="4.25" fill="#3a53a4"/>
<circle cx="710.0" cy="1075.2" r="4.25" fill="#3a53a4"/>
<circle cx="724.7" cy="1081.0" r="4.25" fill="#3a53a4"/>
<circle cx="739.5" cy="1087.5" r="4.25" fill="#3a53a4"/>
<circle cx="754.2" cy="1090.9" r="4.25" fill="#3a53a4"/>
<circle cx="768.9" cy="1093.2" r="4.25" fill="#3a53a4"/>
<circle cx="783.7" cy="1094.6" r="4.25" fill="#3a53a4"/>
<circle cx="798.4" cy="1095.1" r="4.25" fill="#3a53a4"/>
<circle cx="813.1" cy="1093.9" r="4.25" fill="#3a53a4"/>
<circle cx="827.9" cy="1092.2" r="4.25" fill="#3a53a4"/>
<circle cx="842.6" cy="1090.4" r="4.25" fill="#3a53a4"/>
<circle cx="857.4" cy="1089.9" r="4.25" fill="#3a53a4"/>
<circle cx="872.1" cy="1090.4" r="4.25" fill="#3a53a4"/>
<circle cx="886.8" cy="1091.6" r="4.25" fill="#3a53a4"/>
<circle cx="901.6" cy="1095.0" r="4.25" fill="#3a53a4"/>
<circle cx="916.3" cy="1096.8" r="4.25" fill="#3a53a4"/>
<circle cx="931.0" cy="1097.0" r="4.25" fill="#3a53a4"/>
<circle cx="945.8" cy="1096.1" r="4.25" fill="#3a53a4"/>
<circle cx="960.5" cy="1094.7" r="4.25" fill="#3a53a4"/>
<circle cx="975.2" cy="1094.7" r="4.25" fill="#3a53a4"/>
<circle cx="990.0" cy="1095.4" r="4.25" fill="#3a53a4"/>
<circle cx="1004.7" cy="1096.1" r="4.25" fill="#3a53a4"/>
<circle cx="1019.5" cy="1096.6" r="4.25" fill="#3a53a4"/>
<circle cx="1034.2" cy="1097.3" r="4.25" fill="#3a53a4"/>
<circle cx="1048.9" cy="1098.3" r="4.25" fill="#3a53a4"/>
<circle cx="1063.7" cy="1098.5" r="4.25" fill="#3a53a4"/>
<circle cx="1078.4" cy="1098.3" r="4.25" fill="#3a53a4"/>
<circle cx="1093.1" cy="1097.8" r="4.25" fill="#3a53a4"/>
<circle cx="1107.9" cy="1098.3" r="4.25" fill="#3a53a4"/>
<circle cx="1122.6" cy="1098.9" r="4.25" fill="#3a53a4"/>
<circle cx="1137.3" cy="1100.6" r="4.25" fill="#3a53a4"/>
<circle cx="1152.1" cy="1102.1" r="4.25" fill="#3a53a4"/>
<circle cx="1166.8" cy="1103.0" r="4.25" fill="#3a53a4"/>
<circle cx="1181.6" cy="1103.7" r="4.25" fill="#3a53a4"/>
<path d="M212.4 1109.5L214.9 1109.5L217.4 1109.5L219.9 1109.5L222.3 1109.5L224.8 1109.5L227.3 1109.5L229.8 1109.6L232.3 1109.6L234.8 1109.6L237.3 1109.7L239.8 1109.7L242.2 1109.7L244.7 1109.7L247.2 1109.7L249.7 1109.7L252.2 1109.7L254.7 1109.7L257.2 1109.7L259.6 1109.7L262.1 1109.7L264.6 1109.6L267.1 1109.6L269.6 1109.6L272.1 1109.5L274.6 1109.1L277.1 1108.7L279.5 1108.3L282.0 1107.9L284.5 1107.5L287.0 1107.1L289.5 1105.9L292.0 1104.7L294.5 1103.5L297.0 1102.3L299.4 1101.1L301.9 1099.9L304.4 1097.3L306.9 1094.6L309.4 1091.9L311.9 1089.3L314.3 1086.6L316.8 1084.0L319.3 1079.0L321.8 1074.0L324.2 1069.0L326.7 1064.0L329.2 1059.0L331.7 1054.0L334.1 1047.6L336.6 1041.2L339.1 1034.7L341.6 1028.3L344.0 1021.9L346.5 1015.4L349.0 1010.3L351.5 1005.1L353.9 1000.0L356.4 994.8L358.9 989.7L361.4 984.5L363.8 984.1L366.3 983.7L368.8 983.3L371.3 982.8L373.7 982.4L376.2 982.0L378.7 985.3L381.2 988.6L383.7 991.9L386.2 995.2L388.6 998.5L391.1 1001.8L393.6 1005.7L396.1 1009.5L398.6 1013.4L401.1 1017.3L403.5 1021.1L406.0 1025.0L408.5 1027.6L411.0 1030.2L413.5 1032.8L416.0 1035.4L418.4 1038.0L420.9 1040.6L423.1 1042.1L425.3 1043.5L427.4 1045.0L429.6 1046.5L431.8 1047.9L434.0 1049.4L436.1 1050.6L438.3 1051.8L440.5 1053.0L442.7 1054.2L444.8 1055.4L447.0 1056.6L449.2 1057.7L451.3 1058.8L453.5 1059.9L455.7 1061.0L457.9 1062.1L460.0 1063.3L462.2 1064.2L464.4 1065.1L466.8 1066.0L469.3 1066.9L471.8 1067.8L474.2 1068.7L476.7 1069.5L479.1 1070.3L481.6 1071.1L484.0 1071.9L486.5 1072.8L489.0 1073.6L491.4 1074.4L493.9 1075.2L496.3 1076.0L498.8 1076.7L501.2 1077.5L503.7 1078.3L506.1 1079.2L508.6 1080.0L511.1 1080.9L513.5 1081.8L516.0 1082.6L518.4 1083.5L520.9 1084.0L523.3 1084.5L525.8 1084.9L528.2 1085.4L530.7 1085.9L533.2 1086.4L535.6 1086.7L538.1 1087.0L540.5 1087.4L543.0 1087.7L545.4 1088.0L547.9 1088.3L550.4 1088.4L552.8 1088.5L555.3 1088.6L557.7 1088.7L560.2 1088.7L562.6 1088.8L565.1 1088.8L567.5 1088.8L570.0 1088.8L572.5 1088.8L574.9 1088.8L577.4 1088.8L579.8 1088.8L582.3 1088.8L584.7 1088.8L587.2 1088.8L589.6 1088.8L592.1 1088.8L594.6 1088.7L597.0 1088.7L599.5 1088.6L601.9 1088.5L604.4 1088.4L606.8 1088.3L609.3 1088.2L611.8 1088.0L614.2 1087.9L616.7 1087.7L619.1 1087.5L621.6 1087.4L624.0 1087.0L626.5 1086.6L628.9 1086.2L631.4 1085.8L633.9 1085.4L636.3 1085.0L638.8 1084.5L641.2 1084.0L643.7 1083.4L646.1 1082.9L648.6 1082.4L651.1 1081.8L653.5 1081.1L656.0 1080.4L658.4 1079.6L660.9 1078.9L663.3 1078.2L665.8 1077.5L668.2 1076.9L670.7 1076.3L673.2 1075.8L675.6 1075.2L678.1 1074.6L680.5 1074.1L683.0 1073.7L685.4 1073.3L687.9 1072.9L690.3 1072.6L692.8 1072.2L695.3 1071.8L697.7 1072.4L700.2 1073.0L702.6 1073.5L705.1 1074.1L707.5 1074.7L710.0 1075.2L712.5 1076.2L714.9 1077.1L717.4 1078.1L719.8 1079.0L722.3 1080.0L724.7 1081.0L727.2 1082.0L729.6 1083.1L732.1 1084.2L734.6 1085.3L737.0 1086.4L739.5 1087.5L741.9 1088.0L744.4 1088.6L746.8 1089.2L749.3 1089.7L751.7 1090.3L754.2 1090.9L756.7 1091.3L759.1 1091.6L761.6 1092.0L764.0 1092.4L766.5 1092.8L768.9 1093.2L771.4 1093.4L773.9 1093.7L776.3 1093.9L778.8 1094.1L781.2 1094.3L783.7 1094.6L786.1 1094.6L788.6 1094.7L791.0 1094.8L793.5 1094.9L796.0 1095.0L798.4 1095.1L800.9 1094.9L803.3 1094.7L805.8 1094.5L808.2 1094.3L810.7 1094.1L813.1 1093.9L815.6 1093.6L818.1 1093.3L820.5 1093.1L823.0 1092.8L825.4 1092.5L827.9 1092.2L830.3 1091.9L832.8 1091.6L835.3 1091.3L837.7 1091.0L840.2 1090.7L842.6 1090.4L845.1 1090.3L847.5 1090.2L850.0 1090.1L852.4 1090.1L854.9 1090.0L857.4 1089.9L859.8 1090.0L862.3 1090.1L864.7 1090.1L867.2 1090.2L869.6 1090.3L872.1 1090.4L874.5 1090.6L877.0 1090.8L879.5 1091.0L881.9 1091.2L884.4 1091.4L886.8 1091.6L889.3 1092.1L891.7 1092.7L894.2 1093.3L896.7 1093.8L899.1 1094.4L901.6 1095.0L904.0 1095.3L906.5 1095.6L908.9 1095.9L911.4 1096.2L913.8 1096.5L916.3 1096.8L918.8 1096.8L921.2 1096.9L923.7 1096.9L926.1 1096.9L928.6 1097.0L931.0 1097.0L933.5 1096.8L936.0 1096.7L938.4 1096.6L940.9 1096.4L943.3 1096.3L945.8 1096.1L948.2 1095.9L950.7 1095.6L953.1 1095.4L955.6 1095.1L958.1 1094.9L960.5 1094.7L963.0 1094.7L965.4 1094.7L967.9 1094.7L970.3 1094.7L972.8 1094.7L975.2 1094.7L977.7 1094.8L980.2 1094.9L982.6 1095.1L985.1 1095.2L987.5 1095.3L990.0 1095.4L992.4 1095.6L994.9 1095.7L997.4 1095.8L999.8 1095.9L1002.3 1096.0L1004.7 1096.1L1007.2 1096.2L1009.6 1096.3L1012.1 1096.4L1014.5 1096.4L1017.0 1096.5L1019.5 1096.6L1021.9 1096.7L1024.4 1096.8L1026.8 1096.9L1029.3 1097.1L1031.7 1097.2L1034.2 1097.3L1036.6 1097.4L1039.1 1097.6L1041.6 1097.8L1044.0 1097.9L1046.5 1098.1L1048.9 1098.3L1051.4 1098.3L1053.8 1098.4L1056.3 1098.4L1058.8 1098.5L1061.2 1098.5L1063.7 1098.5L1066.1 1098.5L1068.6 1098.5L1071.0 1098.4L1073.5 1098.4L1075.9 1098.3L1078.4 1098.3L1080.9 1098.2L1083.3 1098.1L1085.8 1098.0L1088.2 1097.9L1090.7 1097.9L1093.1 1097.8L1095.6 1097.9L1098.0 1097.9L1100.5 1098.0L1103.0 1098.1L1105.4 1098.2L1107.9 1098.3L1110.3 1098.4L1112.8 1098.5L1115.2 1098.6L1117.7 1098.7L1120.2 1098.8L1122.6 1098.9L1125.1 1099.2L1127.5 1099.5L1130.0 1099.8L1132.4 1100.0L1134.9 1100.3L1137.3 1100.6L1139.8 1100.9L1142.3 1101.1L1144.7 1101.4L1147.2 1101.6L1149.6 1101.9L1152.1 1102.1L1154.5 1102.3L1157.0 1102.4L1159.5 1102.6L1161.9 1102.7L1164.4 1102.9L1166.8 1103.0L1169.3 1103.1L1171.7 1103.2L1174.2 1103.4L1176.6 1103.5L1179.1 1103.6L1181.6 1103.7" fill="none" stroke="#3a53a4" stroke-width="2.9" stroke-linejoin="round" stroke-dasharray="7.8 11.4" stroke-linecap="round"/>
<path d="M282.6 1110.7L297.4 1110.2L312.1 1110.2L326.9 1109.7L341.6 1107.5L356.3 1106.3L371.1 1104.4L385.8 1099.1L400.5 1085.5L415.3 1056.1L430.0 1009.5L444.7 971.2L459.5 963.5L474.2 990.4L489.0 1025.7L503.7 1052.5L518.4 1066.4L533.2 1072.8L547.9 1076.9L562.6 1079.2L577.4 1081.2L592.1 1082.8L606.8 1082.3L621.6 1080.5L636.3 1078.3L651.1 1076.2L665.8 1072.2L680.5 1068.6L695.3 1067.4L710.0 1071.0L724.7 1077.5L739.5 1083.4L754.2 1087.0L768.9 1088.7L783.7 1089.4L798.4 1091.2L813.1 1092.2L827.9 1092.5L842.6 1092.2L857.4 1092.2L872.1 1092.5L886.8 1094.2L901.6 1096.1L916.3 1097.8L931.0 1097.8L945.8 1096.6L960.5 1093.7L975.2 1092.5L990.0 1091.3L1004.7 1090.6L1019.5 1089.4L1034.2 1088.9L1048.9 1089.4L1063.7 1089.9L1078.4 1089.4L1093.1 1088.7L1107.9 1088.9L1122.6 1090.6L1137.3 1094.7L1152.1 1098.3L1166.8 1101.0L1181.6 1101.9" fill="none" stroke="#ed1c24" stroke-width="1.9" stroke-linejoin="round"/>
<rect x="278.5" y="1106.6" width="8.2" height="8.2" fill="#ed1c24"/>
<rect x="293.3" y="1106.1" width="8.2" height="8.2" fill="#ed1c24"/>
<rect x="308.0" y="1106.1" width="8.2" height="8.2" fill="#ed1c24"/>
<rect x="322.8" y="1105.6" width="8.2" height="8.2" fill="#ed1c24"/>
<rect x="337.5" y="1103.4" width="8.2" height="8.2" fill="#ed1c24"/>
<rect x="352.2" y="1102.2" width="8.2" height="8.2" fill="#ed1c24"/>
<rect x="367.0" y="1100.3" width="8.2" height="8.2" fill="#ed1c24"/>
<rect x="381.7" y="1095.0" width="8.2" height="8.2" fill="#ed1c24"/>
<rect x="396.4" y="1081.4" width="8.2" height="8.2" fill="#ed1c24"/>
<rect x="411.2" y="1052.0" width="8.2" height="8.2" fill="#ed1c24"/>
<rect x="425.9" y="1005.4" width="8.2" height="8.2" fill="#ed1c24"/>
<rect x="440.6" y="967.1" width="8.2" height="8.2" fill="#ed1c24"/>
<rect x="455.4" y="959.4" width="8.2" height="8.2" fill="#ed1c24"/>
<rect x="470.1" y="986.3" width="8.2" height="8.2" fill="#ed1c24"/>
<rect x="484.9" y="1021.6" width="8.2" height="8.2" fill="#ed1c24"/>
<rect x="499.6" y="1048.4" width="8.2" height="8.2" fill="#ed1c24"/>
<rect x="514.3" y="1062.3" width="8.2" height="8.2" fill="#ed1c24"/>
<rect x="529.1" y="1068.7" width="8.2" height="8.2" fill="#ed1c24"/>
<rect x="543.8" y="1072.8" width="8.2" height="8.2" fill="#ed1c24"/>
<rect x="558.5" y="1075.1" width="8.2" height="8.2" fill="#ed1c24"/>
<rect x="573.3" y="1077.1" width="8.2" height="8.2" fill="#ed1c24"/>
<rect x="588.0" y="1078.7" width="8.2" height="8.2" fill="#ed1c24"/>
<rect x="602.7" y="1078.2" width="8.2" height="8.2" fill="#ed1c24"/>
<rect x="617.5" y="1076.4" width="8.2" height="8.2" fill="#ed1c24"/>
<rect x="632.2" y="1074.2" width="8.2" height="8.2" fill="#ed1c24"/>
<rect x="647.0" y="1072.1" width="8.2" height="8.2" fill="#ed1c24"/>
<rect x="661.7" y="1068.1" width="8.2" height="8.2" fill="#ed1c24"/>
<rect x="676.4" y="1064.5" width="8.2" height="8.2" fill="#ed1c24"/>
<rect x="691.2" y="1063.3" width="8.2" height="8.2" fill="#ed1c24"/>
<rect x="705.9" y="1066.9" width="8.2" height="8.2" fill="#ed1c24"/>
<rect x="720.6" y="1073.4" width="8.2" height="8.2" fill="#ed1c24"/>
<rect x="735.4" y="1079.3" width="8.2" height="8.2" fill="#ed1c24"/>
<rect x="750.1" y="1082.9" width="8.2" height="8.2" fill="#ed1c24"/>
<rect x="764.8" y="1084.6" width="8.2" height="8.2" fill="#ed1c24"/>
<rect x="779.6" y="1085.3" width="8.2" height="8.2" fill="#ed1c24"/>
<rect x="794.3" y="1087.1" width="8.2" height="8.2" fill="#ed1c24"/>
<rect x="809.0" y="1088.1" width="8.2" height="8.2" fill="#ed1c24"/>
<rect x="823.8" y="1088.4" width="8.2" height="8.2" fill="#ed1c24"/>
<rect x="838.5" y="1088.1" width="8.2" height="8.2" fill="#ed1c24"/>
<rect x="853.3" y="1088.1" width="8.2" height="8.2" fill="#ed1c24"/>
<rect x="868.0" y="1088.4" width="8.2" height="8.2" fill="#ed1c24"/>
<rect x="882.7" y="1090.1" width="8.2" height="8.2" fill="#ed1c24"/>
<rect x="897.5" y="1092.0" width="8.2" height="8.2" fill="#ed1c24"/>
<rect x="912.2" y="1093.7" width="8.2" height="8.2" fill="#ed1c24"/>
<rect x="926.9" y="1093.7" width="8.2" height="8.2" fill="#ed1c24"/>
<rect x="941.7" y="1092.5" width="8.2" height="8.2" fill="#ed1c24"/>
<rect x="956.4" y="1089.6" width="8.2" height="8.2" fill="#ed1c24"/>
<rect x="971.1" y="1088.4" width="8.2" height="8.2" fill="#ed1c24"/>
<rect x="985.9" y="1087.2" width="8.2" height="8.2" fill="#ed1c24"/>
<rect x="1000.6" y="1086.5" width="8.2" height="8.2" fill="#ed1c24"/>
<rect x="1015.4" y="1085.3" width="8.2" height="8.2" fill="#ed1c24"/>
<rect x="1030.1" y="1084.8" width="8.2" height="8.2" fill="#ed1c24"/>
<rect x="1044.8" y="1085.3" width="8.2" height="8.2" fill="#ed1c24"/>
<rect x="1059.6" y="1085.8" width="8.2" height="8.2" fill="#ed1c24"/>
<rect x="1074.3" y="1085.3" width="8.2" height="8.2" fill="#ed1c24"/>
<rect x="1089.0" y="1084.6" width="8.2" height="8.2" fill="#ed1c24"/>
<rect x="1103.8" y="1084.8" width="8.2" height="8.2" fill="#ed1c24"/>
<rect x="1118.5" y="1086.5" width="8.2" height="8.2" fill="#ed1c24"/>
<rect x="1133.2" y="1090.6" width="8.2" height="8.2" fill="#ed1c24"/>
<rect x="1148.0" y="1094.2" width="8.2" height="8.2" fill="#ed1c24"/>
<rect x="1162.7" y="1096.9" width="8.2" height="8.2" fill="#ed1c24"/>
<rect x="1177.5" y="1097.8" width="8.2" height="8.2" fill="#ed1c24"/>
<path d="M285.7 1110.7L288.1 1110.6L290.6 1110.5L293.1 1110.5L295.5 1110.4L298.0 1110.3L300.4 1110.2L302.9 1110.2L305.3 1110.2L307.8 1110.2L310.2 1110.2L312.7 1110.2L315.2 1110.2L317.6 1110.1L320.1 1110.1L322.5 1110.0L325.0 1109.9L327.4 1109.8L329.9 1109.7L332.4 1109.4L334.8 1109.0L337.3 1108.6L339.7 1108.2L342.2 1107.9L344.6 1107.5L347.1 1107.3L349.5 1107.1L352.0 1106.9L354.5 1106.7L356.9 1106.5L359.4 1106.3L361.8 1106.0L364.3 1105.7L366.7 1105.4L369.2 1105.0L371.7 1104.7L374.1 1104.4L376.6 1103.5L379.0 1102.6L381.5 1101.8L383.9 1100.9L386.4 1100.0L388.8 1099.1L391.3 1096.9L393.8 1094.6L396.2 1092.3L398.7 1090.1L401.1 1087.8L403.6 1085.5L406.0 1080.6L408.5 1075.7L410.9 1070.8L413.4 1065.9L415.9 1061.0L418.3 1056.1L420.8 1048.3L423.2 1040.6L425.7 1032.8L428.1 1025.0L430.6 1017.3L433.1 1009.5L435.5 1003.1L438.0 996.7L440.4 990.4L442.9 984.0L445.3 977.6L447.8 971.2L450.2 969.9L452.7 968.7L455.2 967.4L457.6 966.1L460.1 964.8L462.5 963.5L465.0 968.0L467.4 972.5L469.9 977.0L472.3 981.4L474.8 985.9L477.3 990.4L479.7 996.2L482.2 1002.1L484.6 1008.0L487.1 1013.9L489.5 1019.8L492.0 1025.7L494.5 1030.1L496.9 1034.6L499.4 1039.1L501.8 1043.5L504.3 1048.0L506.7 1052.5L509.2 1054.8L511.6 1057.1L514.1 1059.4L516.6 1061.7L519.0 1064.1L521.5 1066.4L523.9 1067.4L526.4 1068.5L528.8 1069.6L531.3 1070.7L533.7 1071.7L536.2 1072.8L538.7 1073.5L541.1 1074.2L543.6 1074.8L546.0 1075.5L548.5 1076.2L550.9 1076.9L553.4 1077.3L555.9 1077.7L558.3 1078.0L560.8 1078.4L563.2 1078.8L565.7 1079.2L568.1 1079.5L570.6 1079.9L573.0 1080.2L575.5 1080.5L578.0 1080.8L580.4 1081.2L582.9 1081.4L585.3 1081.7L587.8 1082.0L590.2 1082.3L592.7 1082.5L595.2 1082.8L597.6 1082.7L600.1 1082.6L602.5 1082.6L601.9 1082.5L604.4 1082.4L606.8 1082.3L609.3 1082.0L611.8 1081.7L614.2 1081.4L616.7 1081.1L619.1 1080.8L621.6 1080.5L624.0 1080.1L626.5 1079.8L628.9 1079.4L631.4 1079.0L633.9 1078.7L636.3 1078.3L638.8 1078.0L641.2 1077.6L643.7 1077.3L646.1 1076.9L648.6 1076.6L651.1 1076.2L653.5 1075.5L656.0 1074.9L658.4 1074.2L660.9 1073.5L663.3 1072.9L665.8 1072.2L668.2 1071.6L670.7 1071.0L673.2 1070.4L675.6 1069.8L678.1 1069.2L680.5 1068.6L683.0 1068.4L685.4 1068.2L687.9 1068.0L690.3 1067.8L692.8 1067.6L695.3 1067.4L697.7 1068.0L700.2 1068.6L702.6 1069.2L705.1 1069.8L707.5 1070.4L710.0 1071.0L712.5 1072.1L714.9 1073.2L717.4 1074.2L719.8 1075.3L722.3 1076.4L724.7 1077.5L727.2 1078.4L729.6 1079.4L732.1 1080.4L734.6 1081.4L737.0 1082.4L739.5 1083.4L741.9 1084.0L744.4 1084.6L746.8 1085.2L749.3 1085.8L751.7 1086.4L754.2 1087.0L756.7 1087.3L759.1 1087.6L761.6 1087.9L764.0 1088.1L766.5 1088.4L768.9 1088.7L771.4 1088.8L773.9 1089.0L776.3 1089.1L778.8 1089.2L781.2 1089.3L783.7 1089.4L786.1 1089.7L788.6 1090.0L791.0 1090.3L793.5 1090.6L796.0 1090.9L798.4 1091.2L800.9 1091.3L803.3 1091.5L805.8 1091.7L808.2 1091.9L810.7 1092.1L813.1 1092.2L815.6 1092.3L818.1 1092.3L820.5 1092.4L823.0 1092.4L825.4 1092.5L827.9 1092.5L830.3 1092.5L832.8 1092.4L835.3 1092.4L837.7 1092.3L840.2 1092.3L842.6 1092.2L845.1 1092.2L847.5 1092.2L850.0 1092.2L852.4 1092.2L854.9 1092.2L857.4 1092.2L859.8 1092.3L862.3 1092.3L864.7 1092.4L867.2 1092.4L869.6 1092.5L872.1 1092.5L874.5 1092.8L877.0 1093.1L879.5 1093.3L881.9 1093.6L884.4 1093.9L886.8 1094.2L889.3 1094.5L891.7 1094.8L894.2 1095.1L896.7 1095.5L899.1 1095.8L901.6 1096.1L904.0 1096.4L906.5 1096.7L908.9 1096.9L911.4 1097.2L913.8 1097.5L916.3 1097.8L918.8 1097.8L921.2 1097.8L923.7 1097.8L926.1 1097.8L928.6 1097.8L931.0 1097.8L933.5 1097.6L936.0 1097.4L938.4 1097.2L940.9 1097.0L943.3 1096.8L945.8 1096.6L948.2 1096.1L950.7 1095.6L953.1 1095.1L955.6 1094.7L958.1 1094.2L960.5 1093.7L963.0 1093.5L965.4 1093.3L967.9 1093.1L970.3 1092.9L972.8 1092.7L975.2 1092.5L977.7 1092.3L980.2 1092.1L982.6 1091.9L985.1 1091.7L987.5 1091.5L990.0 1091.3L992.4 1091.1L994.9 1091.0L997.4 1090.9L999.8 1090.8L1002.3 1090.7L1004.7 1090.6L1007.2 1090.4L1009.6 1090.2L1012.1 1090.0L1014.5 1089.8L1017.0 1089.6L1019.5 1089.4L1021.9 1089.3L1024.4 1089.3L1026.8 1089.2L1029.3 1089.1L1031.7 1089.0L1034.2 1088.9L1036.6 1089.0L1039.1 1089.1L1041.6 1089.2L1044.0 1089.3L1046.5 1089.3L1048.9 1089.4L1051.4 1089.5L1053.8 1089.6L1056.3 1089.7L1058.8 1089.7L1061.2 1089.8L1063.7 1089.9L1066.1 1089.8L1068.6 1089.7L1071.0 1089.7L1073.5 1089.6L1075.9 1089.5L1078.4 1089.4L1080.9 1089.3L1083.3 1089.2L1085.8 1089.1L1088.2 1089.0L1090.7 1088.8L1093.1 1088.7L1095.6 1088.8L1098.0 1088.8L1100.5 1088.8L1103.0 1088.9L1105.4 1088.9L1107.9 1088.9L1110.3 1089.2L1112.8 1089.5L1115.2 1089.8L1117.7 1090.0L1120.2 1090.3L1122.6 1090.6L1125.1 1091.3L1127.5 1091.9L1130.0 1092.6L1132.4 1093.3L1134.9 1094.0L1137.3 1094.7L1139.8 1095.3L1142.3 1095.9L1144.7 1096.5L1147.2 1097.1L1149.6 1097.7L1152.1 1098.3L1154.5 1098.7L1157.0 1099.2L1159.5 1099.6L1161.9 1100.1L1164.4 1100.5L1166.8 1101.0L1169.3 1101.1L1171.7 1101.3L1174.2 1101.4L1176.6 1101.6L1179.1 1101.7L1181.6 1101.9" fill="none" stroke="#ed1c24" stroke-width="2.9" stroke-linejoin="round" stroke-dasharray="7.8 11.4" stroke-linecap="round"/>
<rect x="383.6" y="833.2" width="670.2" height="47.8" fill="#fff" stroke="#858585" stroke-width="1.6"/>
<path d="M388.2 846.1H437.2" stroke="#22b04b" stroke-width="1.6" fill="none"/><path d="M407.6 846.1L417.8 846.1M412.7 841.0L412.7 851.2M409.1 842.5L416.3 849.7M409.1 849.7L416.3 842.5" stroke="#22b04b" stroke-width="1.75" fill="none"/><circle cx="412.7" cy="846.1" r="2.6" fill="#22b04b"/>
<path d="M389.5 867.7H437.2" stroke="#22b04b" stroke-width="2.9" stroke-dasharray="7.4 11.9" stroke-linecap="round" fill="none"/>
<text x="441.4" y="852.0" font-size="16.9">M-M + SLR (RCP 8.5)</text>
<text x="441.4" y="873.6" font-size="16.9">M-M + SLR (dredged)</text>
<path d="M616.2 846.1H666.6" stroke="#3a53a4" stroke-width="1.6" fill="none"/><circle cx="641.4" cy="846.1" r="4.25" fill="#3a53a4"/>
<path d="M617.5 867.7H666.6" stroke="#3a53a4" stroke-width="2.9" stroke-dasharray="7.4 11.9" stroke-linecap="round" fill="none"/>
<text x="671.5" y="852.0" font-size="16.9">H-H + SLR (RCP 8.5)</text>
<text x="671.5" y="873.6" font-size="16.9">H-H + SLR (dredged)</text>
<path d="M841.4 846.1H891.0" stroke="#ed1c24" stroke-width="1.6" fill="none"/><rect x="862.1" y="842.0" width="8.2" height="8.2" fill="#ed1c24"/>
<path d="M842.7 867.7H891.0" stroke="#ed1c24" stroke-width="2.9" stroke-dasharray="7.4 11.9" stroke-linecap="round" fill="none"/>
<text x="896.1" y="852.0" font-size="16.9">CF + SLR (RCP 8.5)</text>
<text x="896.1" y="873.6" font-size="16.9">CF + SLR (dredged)</text>
<text x="0" y="806.6" font-size="29.5" font-weight="bold" fill="#111">C</text>
</svg>
</body></html>
